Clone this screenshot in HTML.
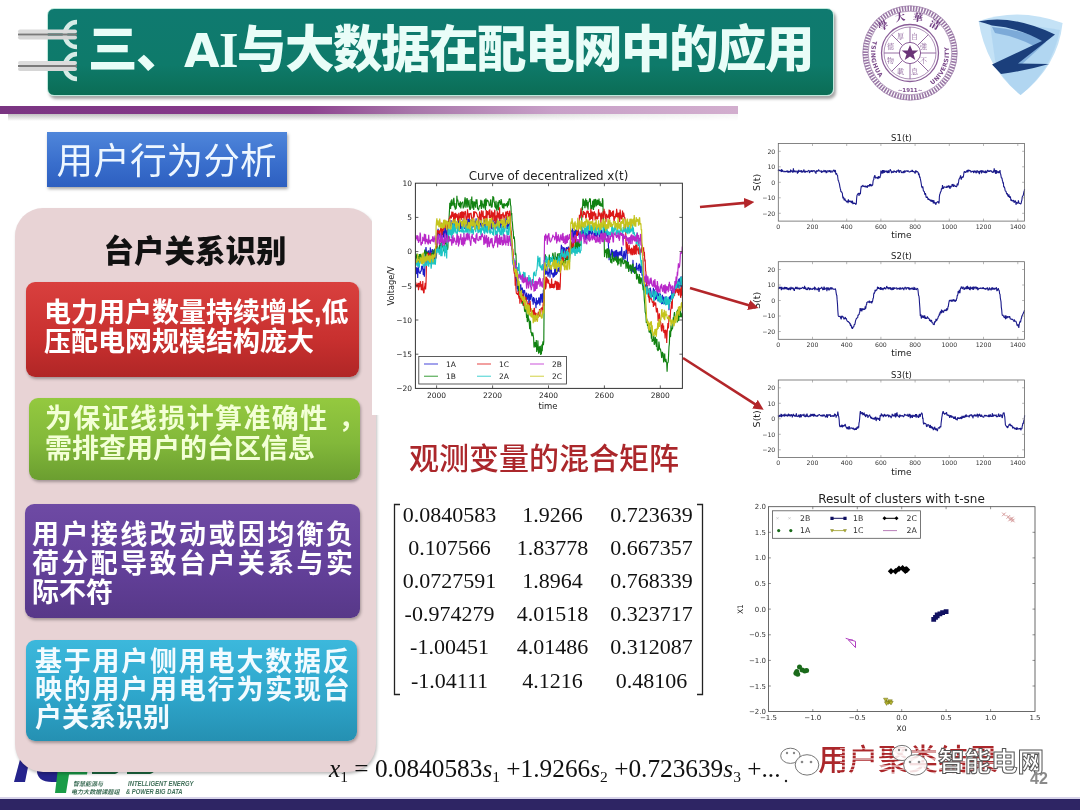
<!DOCTYPE html>
<html><head><meta charset="utf-8">
<style>
*{margin:0;padding:0;box-sizing:border-box}
html,body{width:1080px;height:810px;overflow:hidden;background:#fff}
body{position:relative;font-family:"Liberation Sans","Noto Sans CJK SC",sans-serif}
.abs{position:absolute}
#banner{left:47px;top:8px;width:787px;height:88px;border-radius:7px;background:linear-gradient(180deg,#0f7a70 0%,#0e7a6a 65%,#0b6d55 100%);
 border:1.5px solid #bfe9dc;box-shadow:2px 3px 3px rgba(0,0,0,.35)}
#title{left:88px;top:15px;font:900 49.5px/70px "Liberation Sans","Noto Sans CJK SC",sans-serif;color:#e9fdf8;white-space:nowrap;letter-spacing:-1.5px}
#pline{left:0;top:106px;width:738px;height:8px;background:linear-gradient(90deg,#7a3582 0%,#86398a 30%,#8e4490 42%,#a877aa 56%,#c8a0c8 75%,#d2aece 100%)}
#pshadow{left:8px;top:114px;width:730px;height:7px;background:linear-gradient(180deg,rgba(140,140,140,.55),rgba(200,200,200,0));-webkit-mask-image:linear-gradient(90deg,#000 0%,#000 50%,rgba(0,0,0,.3) 85%,rgba(0,0,0,.15) 100%);mask-image:linear-gradient(90deg,#000 0%,#000 50%,rgba(0,0,0,.3) 85%,rgba(0,0,0,.15) 100%)}
#bluebox{left:47px;top:132px;width:240px;height:55px;background:linear-gradient(180deg,#4f86da 0%,#3a6fcd 55%,#2d5fc0 100%);
 box-shadow:1px 2px 3px rgba(0,0,0,.35)}
#bluetext{left:56.5px;top:133.5px;font:400 36.7px/55px "Liberation Sans","Noto Sans CJK SC",sans-serif;color:#eef7ff;white-space:nowrap}
#pink{left:15px;top:208px;width:361px;height:564px;border-radius:28px;background:#e8d3d5;box-shadow:1px 2px 3px rgba(0,0,0,.25)}
#pinkhead{left:103.5px;top:228.5px;font:900 30.5px/44px "Liberation Sans","Noto Sans CJK SC",sans-serif;color:#111;white-space:nowrap}
.card{position:absolute;border-radius:9px;box-shadow:1px 2px 3px rgba(0,0,0,.3)}
.ct{position:absolute;font:700 27px/30.5px "Liberation Sans","Noto Sans CJK SC",sans-serif;white-space:nowrap}
#c1{left:26px;top:282px;width:333px;height:95px;background:linear-gradient(180deg,#d9403e 0%,#c8302f 60%,#b02626 100%)}
#c2{left:29px;top:398px;width:331px;height:82px;background:linear-gradient(180deg,#94c93f 0%,#82b83a 55%,#6b9e30 100%)}
#c3{left:25px;top:504px;width:335px;height:114px;background:linear-gradient(180deg,#6e4aa4 0%,#63409a 55%,#573888 100%)}
#c4{left:26px;top:640px;width:331px;height:101px;background:linear-gradient(180deg,#3cb8dc 0%,#2ea6cb 55%,#2590b2 100%)}
#redhead{left:409px;top:440.5px;font:500 30px/36px "Liberation Sans","Noto Sans CJK SC",sans-serif;color:#ab272b;white-space:nowrap}
.num{position:absolute;font:400 22px/26px "Liberation Serif","DejaVu Serif",serif;color:#111;white-space:nowrap}
#eq{left:329px;top:754px;font:400 25.3px/28px "Liberation Serif",serif;color:#111;white-space:nowrap}
#eq i{font-style:italic}
#eq sub{font-size:15.5px;vertical-align:-5px;line-height:0}
#redfoot{left:818px;top:742px;font:500 30px/36px "Liberation Sans","Noto Sans CJK SC",sans-serif;color:#ab272b;white-space:nowrap}
#wm{left:938px;top:744px;font:700 26.5px/36px "Liberation Sans","Noto Sans CJK SC",sans-serif;color:#fff;-webkit-text-stroke:1px #555;white-space:nowrap}
#pgnum{left:1030px;top:770px;font:700 16px/18px "Liberation Sans",sans-serif;color:#8a8a8a}
#bottombar{left:0;top:799px;width:1080px;height:11px;background:#2e2564}
#bottomline{left:0;top:797px;width:1080px;height:2px;background:#d8d4ea}
svg{font-family:"DejaVu Sans","Liberation Sans",sans-serif}
</style></head>
<body>
<!-- bottom-left logo (behind pink panel) -->
<svg class="abs" style="left:0;top:740px" width="220" height="60" viewBox="0 740 220 60">
 <path d="M22 752 L31 752 L25 782 L14 782 Z" fill="#25238c"/>
 <path d="M40 756 Q30 782 52 782 L62 782 L64 770 L52 770 Z" fill="#25238c"/>
 <path d="M58 768 L88 768 L87 774.5 L69 774.5 L66 793 L55 793 Z" fill="#1a9c48"/>
 <path d="M92 768 L121 768 Q119 773 115 774 L92 774 Z" fill="#1d6b42"/>
 <path d="M127 768 L157 768 Q154 773 150 774 L127 774 Z" fill="#1d6b42"/>
 <g fill="#3f6f58" font-style="italic" style="font-family:'Noto Sans CJK SC',sans-serif" font-weight="700">
  <text x="73" y="786" font-size="6" textLength="30" lengthAdjust="spacingAndGlyphs">智慧能源与</text>
  <text x="71" y="793.5" font-size="6" textLength="48.5" lengthAdjust="spacingAndGlyphs">电力大数据课题组</text>
 </g>
 <g fill="#3f6f58" font-style="italic" font-weight="700" style="font-family:'Liberation Sans',sans-serif">
  <text x="128" y="786" font-size="6.6" textLength="65.5" lengthAdjust="spacingAndGlyphs">INTELLIGENT ENERGY</text>
  <text x="126" y="793.5" font-size="6.6" textLength="56.5" lengthAdjust="spacingAndGlyphs">&amp; POWER BIG DATA</text>
 </g>
</svg>

<div class="abs" id="banner"></div>
<!-- clips -->
<svg class="abs" style="left:0;top:0" width="90" height="90" viewBox="0 0 90 90">
 <g>
  <path d="M77 22 A12 12 0 0 0 65 34 L65 36 A12 12 0 0 0 77 47" fill="none" stroke="#d6ebe6" stroke-width="4.6"/>
  <rect x="18" y="29.5" width="59" height="4" rx="2" fill="#dcdcdc"/>
  <rect x="18" y="35.5" width="59" height="4" rx="2" fill="#d6d6d6"/>
  <rect x="18" y="33.5" width="59" height="2" fill="#7a7a7a"/>
  <path d="M77 54 A12 12 0 0 0 65 66 L65 67 A12 12 0 0 0 77 79" fill="none" stroke="#d6ebe6" stroke-width="4.6"/>
  <rect x="18" y="61" width="59" height="4" rx="2" fill="#dcdcdc"/>
  <rect x="18" y="67" width="59" height="4" rx="2" fill="#d6d6d6"/>
  <rect x="18" y="65" width="59" height="2" fill="#7a7a7a"/>
 </g>
</svg>
<div class="abs" id="title">三、<span style="font-family:'DejaVu Sans';font-weight:700;font-size:46px">A</span><span style="font-family:'Liberation Serif';font-weight:700;font-size:50px;margin-left:1px">I</span>与大数据在配电网中的应用</div>
<div class="abs" id="pshadow"></div>
<div class="abs" id="pline"></div>

<!-- logos -->
<svg class="abs" style="left:859.6px;top:3.2px" width="100" height="100" viewBox="0 0 100 100">
 <defs>
  <path id="arcL" d="M13.35 36.66 A39 39 0 0 0 27.6 81.9"/>
  <path id="arcR" d="M72.37 81.95 A39 39 0 0 0 86.65 36.66"/>
 </defs>
 <circle cx="50" cy="50" r="44.6" fill="none" stroke="#9a78a6" stroke-width="5.2" stroke-dasharray="1.6 1.2"/>
 <circle cx="50" cy="50" r="47.2" fill="none" stroke="#9a78a6" stroke-width="0.7"/>
 <circle cx="50" cy="50" r="41.8" fill="none" stroke="#9a78a6" stroke-width="0.7"/>
 <circle cx="50" cy="50" r="28.5" fill="none" stroke="#8a5e98" stroke-width="1.3"/>
 <circle cx="50" cy="50" r="26" fill="none" stroke="#8a5e98" stroke-width="0.7"/>
 <circle cx="50" cy="50" r="10.6" fill="none" stroke="#8a5e98" stroke-width="1"/>
 <polygon points="50,42 52.3,47.6 58.3,47.6 53.5,51.2 55.3,57 50,53.5 44.7,57 46.5,51.2 41.7,47.6 47.7,47.6" fill="#6a3478"/>
 <g stroke="#8a5e98" stroke-width="0.9">
  <line x1="50" y1="24" x2="50" y2="39.4"/><line x1="50" y1="60.6" x2="50" y2="76"/>
  <line x1="24" y1="50" x2="39.4" y2="50"/><line x1="60.6" y1="50" x2="76" y2="50"/>
  <line x1="31.6" y1="31.6" x2="42.5" y2="42.5"/><line x1="57.5" y1="57.5" x2="68.4" y2="68.4"/>
  <line x1="68.4" y1="31.6" x2="57.5" y2="42.5"/><line x1="42.5" y1="57.5" x2="31.6" y2="68.4"/>
 </g>
 <g fill="#6e3a80" font-size="10" font-weight="900" style="font-family:'Noto Serif CJK SC',serif">
  <text x="18" y="26" transform="rotate(-28 23 22)">學</text>
  <text x="35" y="18" transform="rotate(-9 39 14)">大</text>
  <text x="53" y="18" transform="rotate(9 57 14)">華</text>
  <text x="70" y="25" transform="rotate(28 75 21)">清</text>
 </g>
 <g fill="#8a5e98" font-size="7" style="font-family:'Noto Serif CJK SC',serif">
  <text x="37" y="36">厚</text><text x="51" y="36">自</text>
  <text x="60" y="46">強</text><text x="60" y="60">不</text>
  <text x="51" y="71">息</text><text x="37" y="71">載</text>
  <text x="27" y="60">物</text><text x="27" y="46">德</text>
 </g>
 <g fill="#7a4a8a" font-size="6" font-weight="700" style="font-family:'DejaVu Sans',sans-serif">
  <text letter-spacing="0.6"><textPath href="#arcL" startOffset="1">TSINGHUA</textPath></text>
  <text letter-spacing="0.3"><textPath href="#arcR" startOffset="0">UNIVERSITY</textPath></text>
  <text x="50" y="88.5" text-anchor="middle" font-size="5.5">~1911~</text>
 </g>
</svg>
<svg class="abs" style="left:970px;top:5px" width="100" height="100" viewBox="970 5 100 100">
 <path d="M978.6 21 Q1019 7 1062.6 23 Q1058 66 1020.6 95 Q986 68 978.6 21 Z" fill="#c4e2f6"/>
 <path d="M990 24 Q1030 24 1060 30 Q1052 70 1020.6 95 Q1000 78 995 60 Z" fill="#a9d2f0" opacity=".7"/>
 <path d="M992 27 Q1025 30 1046 42 L1036 47 Q1018 37 995 33 Z" fill="#6f9fd2" opacity=".8"/>
 <path d="M1046 42 L1036 47 L1012 66 L1020 66 Z" fill="#6f9fd2" opacity=".7"/>
 <path d="M978.5 21.5 Q1012 14 1055 34.5 L1018 63.5 L1049 64 Q1025 71 1001 74 L992 64.5 L1042 41 Q1020 28 992 25.5 Q985 23 978.5 21.5 Z" fill="#1b3f7c"/>
</svg>

<div class="abs" id="bluebox"></div>
<div class="abs" id="bluetext">用户行为分析</div>

<div class="abs" id="pink"></div>
<div class="abs" id="pinkhead">台户关系识别</div>
<div class="card" id="c1"></div>
<div class="ct" style="left:44px;top:298.5px;line-height:29px;color:#fff">电力用户数量持续增长,低<br>压配电网规模结构庞大</div>
<div class="card" id="c2"></div>
<div class="ct" style="left:45px;top:405.3px;line-height:29.5px;color:#f3ffd6"><span style="letter-spacing:1.35px">为保证线损计算准确性<span style="position:relative;left:10px">，</span></span><br>需排查用户的台区信息</div>
<div class="card" id="c3"></div>
<div class="ct" style="left:32px;top:520.6px;line-height:29px;color:#fff"><span style="letter-spacing:2.4px">用户接线改动或因均衡负<br>荷分配导致台户关系与实</span><br>际不符</div>
<div class="card" id="c4"></div>
<div class="ct" style="left:35px;top:647.7px;line-height:28.3px;color:#f2fbff"><span style="letter-spacing:1.77px">基于用户侧用电大数据反<br>映的用户用电行为实现台</span><br>户关系识别</div>

<!-- plots overlay -->
<svg class="abs" style="left:0;top:0" width="1080" height="810" viewBox="0 0 1080 810">
<defs>
 <clipPath id="clipmain"><rect x="415.4" y="183.2" width="267" height="205.2"/></clipPath>
 <marker id="ah" markerWidth="4" markerHeight="4" refX="2.5" refY="2" orient="auto" markerUnits="strokeWidth"><path d="M0 0 L4 2 L0 4 Z" fill="#b3262a"/></marker>
</defs>
<rect x="372" y="160" width="330" height="255" fill="#fff"/>
<g clip-path="url(#clipmain)">
<path d="M415.4 269.4 L415.8 267.1 416.2 267.4 416.6 273.5 417.0 273.9 417.4 268.1 417.7 278.0 418.1 266.3 418.5 268.1 418.9 271.3 419.3 272.8 419.7 272.7 420.1 273.9 420.5 270.9 420.9 271.6 421.3 270.5 421.7 266.0 422.1 266.2 422.4 269.4 422.8 265.8 423.2 274.4 423.6 274.9 424.0 268.7 424.4 276.8 424.8 270.1 425.2 257.6 425.6 250.8 426.0 247.1 426.4 251.6 426.8 252.1 427.1 250.9 427.5 256.1 427.9 259.0 428.3 255.3 428.7 250.2 429.1 255.8 429.5 255.0 429.9 256.8 430.3 247.4 430.7 256.4 431.1 255.0 431.4 250.6 431.8 252.2 432.2 249.1 432.6 250.9 433.0 249.5 433.4 258.1 433.8 254.2 434.2 252.5 434.6 249.4 435.0 254.9 435.4 252.4 435.8 258.4 436.1 256.6 436.5 251.0 436.9 247.5 437.3 232.5 437.7 233.9 438.1 228.9 438.5 235.3 438.9 234.2 439.3 234.1 439.7 233.0 440.1 238.5 440.5 237.2 440.8 237.2 441.2 237.2 441.6 238.9 442.0 229.2 442.4 238.1 442.8 232.6 443.2 237.4 443.6 230.8 444.0 234.3 444.4 238.8 444.8 228.6 445.1 227.3 445.5 228.4 445.9 233.0 446.3 239.3 446.7 236.6 447.1 229.6 447.5 234.0 447.9 238.2 448.3 227.2 448.7 228.2 449.1 226.3 449.5 227.1 449.8 225.7 450.2 224.9 450.6 229.7 451.0 220.1 451.4 224.1 451.8 223.0 452.2 227.5 452.6 221.5 453.0 228.8 453.4 225.4 453.8 229.6 454.1 227.0 454.5 219.5 454.9 222.3 455.3 225.6 455.7 222.4 456.1 221.9 456.5 226.7 456.9 223.7 457.3 221.4 457.7 225.3 458.1 222.6 458.5 222.8 458.8 218.7 459.2 228.6 459.6 219.9 460.0 229.4 460.4 222.2 460.8 222.8 461.2 228.8 461.6 226.7 462.0 221.2 462.4 229.5 462.8 222.4 463.2 219.2 463.5 224.3 463.9 223.2 464.3 228.2 464.7 228.7 465.1 227.1 465.5 227.5 465.9 226.7 466.3 221.1 466.7 222.7 467.1 226.2 467.5 226.5 467.8 218.9 468.2 224.2 468.6 218.6 469.0 222.8 469.4 223.6 469.8 219.2 470.2 221.0 470.6 224.8 471.0 225.3 471.4 220.1 471.8 225.1 472.2 220.7 472.5 227.6 472.9 224.9 473.3 225.3 473.7 220.7 474.1 227.4 474.5 220.8 474.9 222.9 475.3 221.6 475.7 223.4 476.1 218.2 476.5 226.9 476.9 225.5 477.2 226.7 477.6 226.8 478.0 228.6 478.4 219.9 478.8 221.1 479.2 227.9 479.6 224.2 480.0 225.0 480.4 223.2 480.8 223.4 481.2 227.5 481.5 219.4 481.9 226.8 482.3 224.2 482.7 223.1 483.1 227.8 483.5 229.5 483.9 227.1 484.3 221.6 484.7 219.8 485.1 221.0 485.5 228.8 485.9 220.3 486.2 220.1 486.6 220.4 487.0 225.2 487.4 220.2 487.8 228.0 488.2 229.5 488.6 228.6 489.0 227.6 489.4 226.2 489.8 228.5 490.2 223.6 490.6 227.0 490.9 222.4 491.3 228.6 491.7 222.3 492.1 229.5 492.5 225.2 492.9 219.6 493.3 225.6 493.7 220.9 494.1 222.4 494.5 222.8 494.9 226.5 495.2 223.1 495.6 228.8 496.0 221.9 496.4 218.0 496.8 218.0 497.2 228.7 497.6 225.9 498.0 226.2 498.4 226.9 498.8 223.7 499.2 220.9 499.6 225.9 499.9 219.3 500.3 221.2 500.7 228.2 501.1 221.4 501.5 219.7 501.9 227.9 502.3 224.6 502.7 222.6 503.1 222.1 503.5 229.9 503.9 222.6 504.3 222.0 504.6 221.6 505.0 220.5 505.4 227.3 505.8 220.5 506.2 217.6 506.6 217.6 507.0 228.4 507.4 229.0 507.8 222.4 508.2 227.5 508.6 221.9 508.9 220.4 509.3 224.6 509.7 227.2 510.1 223.3 510.5 226.8 510.9 239.4 511.3 240.5 511.7 248.3 512.1 248.2 512.5 251.1 512.9 261.3 513.3 265.2 513.6 262.2 514.0 268.3 514.4 270.6 514.8 271.9 515.2 271.6 515.6 279.6 516.0 274.2 516.4 277.8 516.8 281.7 517.2 289.1 517.6 280.6 518.0 291.0 518.3 291.9 518.7 290.0 519.1 292.5 519.5 284.6 519.9 291.5 520.3 290.2 520.7 284.3 521.1 288.9 521.5 293.6 521.9 290.9 522.3 287.5 522.6 292.9 523.0 289.9 523.4 298.0 523.8 291.1 524.2 290.5 524.6 290.4 525.0 293.2 525.4 297.1 525.8 299.6 526.2 295.7 526.6 292.7 527.0 299.4 527.3 299.7 527.7 295.3 528.1 296.5 528.5 293.6 528.9 304.2 529.3 301.4 529.7 294.5 530.1 300.2 530.5 298.5 530.9 293.7 531.3 294.4 531.6 295.7 532.0 297.4 532.4 301.5 532.8 298.5 533.2 304.7 533.6 297.1 534.0 300.6 534.4 298.2 534.8 303.2 535.2 302.1 535.6 303.0 536.0 308.3 536.3 297.7 536.7 302.7 537.1 304.6 537.5 303.5 537.9 300.1 538.3 303.6 538.7 298.0 539.1 297.6 539.5 302.1 539.9 305.5 540.3 297.8 540.7 293.9 541.0 302.7 541.4 297.1 541.8 295.1 542.2 293.4 542.6 301.9 543.0 302.7 543.4 289.8 543.8 299.2 544.2 285.8 544.6 270.7 545.0 271.0 545.3 267.4 545.7 274.8 546.1 263.9 546.5 273.7 546.9 265.8 547.3 274.8 547.7 271.7 548.1 276.6 548.5 272.5 548.9 272.9 549.3 268.1 549.7 271.6 550.0 277.8 550.4 265.2 550.8 268.5 551.2 265.5 551.6 274.4 552.0 272.7 552.4 274.1 552.8 274.8 553.2 277.7 553.6 272.5 554.0 276.2 554.4 276.6 554.7 267.6 555.1 269.3 555.5 275.5 555.9 268.1 556.3 274.9 556.7 270.1 557.1 273.6 557.5 270.6 557.9 268.7 558.3 268.5 558.7 271.8 559.0 267.2 559.4 267.4 559.8 272.0 560.2 268.8 560.6 263.5 561.0 249.9 561.4 244.7 561.8 256.8 562.2 246.4 562.6 254.1 563.0 251.9 563.4 252.4 563.7 247.0 564.1 258.4 564.5 253.6 564.9 247.9 565.3 255.5 565.7 255.8 566.1 252.9 566.5 247.6 566.9 247.5 567.3 248.6 567.7 249.3 568.1 248.3 568.4 246.6 568.8 249.9 569.2 250.0 569.6 255.5 570.0 251.9 570.4 240.6 570.8 238.5 571.2 230.3 571.6 232.9 572.0 234.6 572.4 228.2 572.7 239.7 573.1 233.4 573.5 238.1 573.9 229.9 574.3 234.6 574.7 231.1 575.1 238.7 575.5 229.5 575.9 234.6 576.3 234.0 576.7 229.5 577.1 235.5 577.4 235.3 577.8 232.0 578.2 230.8 578.6 235.3 579.0 234.7 579.4 237.9 579.8 234.6 580.2 231.2 580.6 239.3 581.0 232.8 581.4 240.8 581.8 228.4 582.1 234.5 582.5 236.3 582.9 229.8 583.3 231.9 583.7 233.3 584.1 239.0 584.5 231.2 584.9 233.0 585.3 229.2 585.7 240.1 586.1 235.6 586.4 233.2 586.8 234.5 587.2 238.7 587.6 233.8 588.0 238.2 588.4 239.3 588.8 230.1 589.2 238.9 589.6 235.2 590.0 230.5 590.4 231.7 590.8 233.4 591.1 230.6 591.5 234.8 591.9 233.2 592.3 231.1 592.7 231.7 593.1 234.0 593.5 234.2 593.9 233.8 594.3 236.5 594.7 232.2 595.1 236.6 595.5 234.7 595.8 232.3 596.2 233.3 596.6 237.2 597.0 233.0 597.4 236.6 597.8 232.6 598.2 231.2 598.6 234.0 599.0 231.4 599.4 241.3 599.8 236.6 600.1 228.5 600.5 233.2 600.9 233.8 601.3 231.5 601.7 229.9 602.1 232.2 602.5 235.3 602.9 237.8 603.3 236.3 603.7 237.5 604.1 236.4 604.5 228.6 604.8 237.2 605.2 235.2 605.6 235.9 606.0 231.2 606.4 230.2 606.8 230.1 607.2 236.1 607.6 236.8 608.0 232.8 608.4 245.6 608.8 250.4 609.1 260.3 609.5 250.3 609.9 255.3 610.3 253.7 610.7 258.2 611.1 255.0 611.5 249.8 611.9 249.3 612.3 254.6 612.7 250.8 613.1 256.0 613.5 256.3 613.8 251.5 614.2 259.4 614.6 256.1 615.0 251.0 615.4 250.9 615.8 259.6 616.2 251.0 616.6 250.0 617.0 254.4 617.4 260.7 617.8 251.7 618.2 257.5 618.5 252.5 618.9 254.9 619.3 251.4 619.7 255.5 620.1 254.4 620.5 252.4 620.9 250.9 621.3 255.9 621.7 246.9 622.1 256.3 622.5 256.1 622.8 255.6 623.2 260.1 623.6 254.3 624.0 251.0 624.4 251.6 624.8 259.0 625.2 258.8 625.6 255.7 626.0 249.6 626.4 252.8 626.8 248.8 627.2 256.1 627.5 261.2 627.9 261.8 628.3 262.7 628.7 266.7 629.1 266.6 629.5 266.5 629.9 267.5 630.3 270.9 630.7 268.2 631.1 265.7 631.5 269.1 631.9 270.3 632.2 271.7 632.6 268.3 633.0 259.9 633.4 272.6 633.8 271.2 634.2 271.1 634.6 267.0 635.0 272.1 635.4 266.5 635.8 270.0 636.2 268.9 636.5 262.7 636.9 270.6 637.3 267.9 637.7 269.0 638.1 268.5 638.5 264.7 638.9 271.1 639.3 263.6 639.7 264.7 640.1 264.9 640.5 273.0 640.9 266.5 641.2 266.6 641.6 266.3 642.0 275.8 642.4 272.3 642.8 273.4 643.2 284.4 643.6 284.8 644.0 289.1 644.4 281.0 644.8 283.9 645.2 284.8 645.6 286.2 645.9 288.3 646.3 289.2 646.7 289.1 647.1 284.7 647.5 290.1 647.9 291.9 648.3 291.4 648.7 297.8 649.1 288.7 649.5 288.6 649.9 293.5 650.2 287.7 650.6 289.4 651.0 291.5 651.4 298.4 651.8 295.8 652.2 296.9 652.6 295.8 653.0 293.5 653.4 287.9 653.8 295.3 654.2 289.3 654.6 293.0 654.9 291.1 655.3 295.5 655.7 300.3 656.1 290.5 656.5 298.0 656.9 298.8 657.3 290.9 657.7 293.8 658.1 301.3 658.5 300.6 658.9 293.2 659.3 298.2 659.6 295.9 660.0 300.6 660.4 293.6 660.8 300.8 661.2 297.1 661.6 304.1 662.0 298.4 662.4 294.9 662.8 303.9 663.2 302.7 663.6 296.7 663.9 297.1 664.3 304.2 664.7 298.7 665.1 302.2 665.5 296.5 665.9 302.7 666.3 298.5 666.7 299.3 667.1 300.7 667.5 302.4 667.9 300.4 668.3 299.7 668.6 304.0 669.0 310.2 669.4 296.5 669.8 297.5 670.2 301.0 670.6 295.3 671.0 299.6 671.4 298.1 671.8 289.7 672.2 293.2 672.6 295.9 673.0 295.0 673.3 298.1 673.7 292.9 674.1 289.5 674.5 291.7 674.9 291.5 675.3 286.6 675.7 290.1 676.1 281.3 676.5 281.4 676.9 287.5 677.3 283.1 677.6 282.8 678.0 287.9 678.4 287.0 678.8 278.9 679.2 283.8 679.6 278.2 680.0 287.2 680.4 281.3 680.8 277.7 681.2 276.4 681.6 287.5 682.0 280.5 682.3 282.2" fill="none" stroke="#1c1cc8" stroke-width="1.15" stroke-linejoin="bevel"/>
<path d="M415.4 256.0 L415.8 260.5 416.2 258.5 416.6 255.1 417.0 253.6 417.4 258.3 417.7 256.8 418.1 263.6 418.5 256.0 418.9 257.1 419.3 254.0 419.7 262.3 420.1 254.1 420.5 254.5 420.9 257.6 421.3 258.1 421.7 257.6 422.1 254.5 422.4 260.1 422.8 262.4 423.2 257.7 423.6 259.2 424.0 253.6 424.4 253.2 424.8 249.5 425.2 251.6 425.6 253.8 426.0 259.4 426.4 252.1 426.8 252.1 427.1 253.4 427.5 252.0 427.9 253.3 428.3 258.8 428.7 255.6 429.1 256.3 429.5 257.5 429.9 256.6 430.3 260.7 430.7 256.1 431.1 257.9 431.4 257.6 431.8 253.1 432.2 253.7 432.6 255.6 433.0 250.1 433.4 259.1 433.8 256.4 434.2 261.6 434.6 258.4 435.0 248.6 435.4 261.3 435.8 248.4 436.1 246.0 436.5 249.1 436.9 245.8 437.3 247.6 437.7 247.8 438.1 248.6 438.5 251.5 438.9 248.7 439.3 249.3 439.7 239.5 440.1 249.6 440.5 249.6 440.8 243.1 441.2 248.8 441.6 242.0 442.0 244.7 442.4 244.8 442.8 247.3 443.2 247.7 443.6 251.0 444.0 250.6 444.4 247.0 444.8 245.2 445.1 240.7 445.5 244.0 445.9 239.1 446.3 243.0 446.7 249.1 447.1 244.3 447.5 249.8 447.9 247.5 448.3 230.1 448.7 224.9 449.1 217.3 449.5 209.8 449.8 202.7 450.2 204.4 450.6 208.9 451.0 200.5 451.4 206.3 451.8 199.4 452.2 204.4 452.6 203.1 453.0 205.8 453.4 200.9 453.8 197.9 454.1 200.7 454.5 207.5 454.9 203.1 455.3 209.7 455.7 208.3 456.1 208.8 456.5 205.6 456.9 195.8 457.3 201.4 457.7 199.5 458.1 201.7 458.5 205.5 458.8 204.3 459.2 203.1 459.6 207.1 460.0 203.0 460.4 201.5 460.8 208.4 461.2 205.1 461.6 203.2 462.0 202.6 462.4 202.7 462.8 201.6 463.2 208.4 463.5 206.3 463.9 207.3 464.3 205.8 464.7 200.1 465.1 197.4 465.5 201.1 465.9 207.6 466.3 205.6 466.7 199.3 467.1 198.2 467.5 200.8 467.8 207.4 468.2 204.1 468.6 202.4 469.0 199.8 469.4 206.6 469.8 209.2 470.2 209.9 470.6 208.6 471.0 199.1 471.4 203.8 471.8 196.5 472.2 208.4 472.5 205.5 472.9 201.0 473.3 202.7 473.7 209.9 474.1 205.4 474.5 202.1 474.9 201.7 475.3 205.7 475.7 207.6 476.1 199.2 476.5 203.9 476.9 199.3 477.2 202.7 477.6 208.9 478.0 208.4 478.4 210.3 478.8 209.0 479.2 206.5 479.6 205.5 480.0 205.7 480.4 206.0 480.8 199.9 481.2 207.8 481.5 209.0 481.9 200.5 482.3 204.2 482.7 203.5 483.1 207.5 483.5 204.4 483.9 208.4 484.3 201.0 484.7 199.5 485.1 203.2 485.5 210.3 485.9 198.2 486.2 205.8 486.6 203.0 487.0 199.8 487.4 200.5 487.8 200.2 488.2 201.9 488.6 201.7 489.0 203.8 489.4 206.1 489.8 204.5 490.2 205.5 490.6 199.7 490.9 199.7 491.3 207.5 491.7 206.9 492.1 207.2 492.5 202.6 492.9 196.1 493.3 197.6 493.7 197.2 494.1 202.5 494.5 201.8 494.9 207.2 495.2 205.8 495.6 208.5 496.0 200.7 496.4 206.5 496.8 210.6 497.2 206.0 497.6 205.7 498.0 201.8 498.4 210.2 498.8 204.9 499.2 200.4 499.6 200.7 499.9 203.0 500.3 201.8 500.7 204.8 501.1 199.0 501.5 201.4 501.9 204.0 502.3 206.6 502.7 208.0 503.1 203.6 503.5 204.2 503.9 208.8 504.3 204.1 504.6 203.5 505.0 204.6 505.4 206.1 505.8 204.5 506.2 205.5 506.6 203.1 507.0 203.6 507.4 207.5 507.8 201.3 508.2 205.2 508.6 205.2 508.9 199.7 509.3 198.8 509.7 199.0 510.1 198.9 510.5 204.6 510.9 206.3 511.3 215.2 511.7 213.1 512.1 220.9 512.5 223.7 512.9 230.0 513.3 231.7 513.6 238.8 514.0 236.3 514.4 238.1 514.8 243.1 515.2 255.1 515.6 252.9 516.0 255.2 516.4 269.2 516.8 271.3 517.2 273.5 517.6 275.6 518.0 282.5 518.3 285.5 518.7 290.6 519.1 291.3 519.5 293.1 519.9 293.0 520.3 299.3 520.7 293.6 521.1 295.0 521.5 297.5 521.9 303.6 522.3 294.8 522.6 301.8 523.0 304.9 523.4 305.7 523.8 303.8 524.2 306.3 524.6 311.1 525.0 311.5 525.4 311.8 525.8 307.0 526.2 312.0 526.6 317.9 527.0 314.7 527.3 321.9 527.7 321.3 528.1 313.2 528.5 320.6 528.9 318.6 529.3 323.2 529.7 329.1 530.1 320.7 530.5 321.9 530.9 332.7 531.3 331.7 531.6 334.2 532.0 336.1 532.4 333.3 532.8 332.5 533.2 335.7 533.6 338.0 534.0 347.6 534.4 346.1 534.8 343.2 535.2 342.0 535.6 347.0 536.0 346.8 536.3 340.1 536.7 352.0 537.1 349.5 537.5 347.8 537.9 340.4 538.3 350.3 538.7 353.7 539.1 347.0 539.5 346.7 539.9 352.7 540.3 345.8 540.7 354.9 541.0 349.3 541.4 354.2 541.8 344.4 542.2 351.2 542.6 344.2 543.0 341.4 543.4 345.2 543.8 341.3 544.2 294.8 544.6 257.3 545.0 255.8 545.3 254.3 545.7 259.5 546.1 259.4 546.5 262.1 546.9 259.6 547.3 259.7 547.7 261.4 548.1 260.2 548.5 260.6 548.9 261.1 549.3 254.5 549.7 261.4 550.0 263.0 550.4 258.6 550.8 262.0 551.2 259.8 551.6 258.6 552.0 257.6 552.4 257.6 552.8 252.8 553.2 254.6 553.6 259.2 554.0 259.2 554.4 258.9 554.7 261.9 555.1 252.3 555.5 263.2 555.9 262.2 556.3 256.7 556.7 257.9 557.1 260.2 557.5 253.6 557.9 259.2 558.3 257.7 558.7 264.7 559.0 253.0 559.4 264.1 559.8 259.0 560.2 253.5 560.6 255.0 561.0 254.7 561.4 255.2 561.8 262.4 562.2 265.1 562.6 258.2 563.0 263.8 563.4 252.7 563.7 264.6 564.1 260.2 564.5 262.7 564.9 264.1 565.3 257.9 565.7 263.3 566.1 254.3 566.5 257.4 566.9 259.8 567.3 254.1 567.7 255.3 568.1 261.2 568.4 253.8 568.8 250.9 569.2 257.4 569.6 258.6 570.0 249.3 570.4 248.9 570.8 250.2 571.2 253.6 571.6 242.2 572.0 246.1 572.4 251.6 572.7 247.0 573.1 249.5 573.5 243.0 573.9 249.0 574.3 251.9 574.7 252.4 575.1 247.8 575.5 238.9 575.9 249.0 576.3 246.5 576.7 239.5 577.1 250.8 577.4 246.6 577.8 241.0 578.2 250.5 578.6 240.3 579.0 241.3 579.4 249.1 579.8 243.9 580.2 245.2 580.6 244.8 581.0 245.7 581.4 232.0 581.8 217.4 582.1 206.8 582.5 209.9 582.9 199.0 583.3 199.0 583.7 205.9 584.1 200.4 584.5 202.6 584.9 208.2 585.3 205.1 585.7 198.5 586.1 205.8 586.4 202.5 586.8 200.0 587.2 207.4 587.6 201.7 588.0 209.7 588.4 201.8 588.8 202.3 589.2 201.6 589.6 198.3 590.0 202.0 590.4 198.5 590.8 208.9 591.1 205.0 591.5 208.3 591.9 209.2 592.3 205.7 592.7 200.9 593.1 201.2 593.5 210.0 593.9 199.2 594.3 206.6 594.7 207.3 595.1 199.4 595.5 199.3 595.8 201.5 596.2 206.3 596.6 204.3 597.0 199.5 597.4 205.1 597.8 200.5 598.2 200.2 598.6 204.6 599.0 198.5 599.4 205.8 599.8 203.6 600.1 201.4 600.5 206.3 600.9 205.2 601.3 203.4 601.7 204.9 602.1 206.8 602.5 198.2 602.9 200.6 603.3 218.7 603.7 222.3 604.1 237.9 604.5 257.1 604.8 250.5 605.2 252.9 605.6 250.4 606.0 249.4 606.4 254.8 606.8 258.2 607.2 248.2 607.6 253.6 608.0 248.3 608.4 257.8 608.8 249.1 609.1 250.3 609.5 257.3 609.9 255.6 610.3 257.3 610.7 262.6 611.1 258.9 611.5 259.3 611.9 263.5 612.3 252.2 612.7 258.9 613.1 257.8 613.5 260.4 613.8 261.8 614.2 257.3 614.6 260.0 615.0 258.8 615.4 260.5 615.8 258.1 616.2 256.0 616.6 262.5 617.0 259.7 617.4 259.7 617.8 265.5 618.2 256.8 618.5 260.3 618.9 264.1 619.3 258.7 619.7 259.7 620.1 260.6 620.5 258.4 620.9 266.7 621.3 262.6 621.7 261.0 622.1 257.4 622.5 261.1 622.8 263.1 623.2 264.0 623.6 263.5 624.0 264.0 624.4 259.7 624.8 261.7 625.2 262.6 625.6 260.4 626.0 268.8 626.4 260.9 626.8 266.4 627.2 261.4 627.5 268.6 627.9 266.3 628.3 261.9 628.7 271.9 629.1 266.9 629.5 267.1 629.9 264.5 630.3 268.9 630.7 264.5 631.1 271.3 631.5 273.6 631.9 266.8 632.2 266.0 632.6 263.9 633.0 264.3 633.4 271.4 633.8 268.0 634.2 268.8 634.6 274.0 635.0 269.7 635.4 267.4 635.8 273.5 636.2 270.7 636.5 278.7 636.9 279.4 637.3 273.7 637.7 278.3 638.1 276.4 638.5 279.2 638.9 283.5 639.3 274.1 639.7 278.3 640.1 284.0 640.5 283.0 640.9 277.3 641.2 278.5 641.6 278.7 642.0 283.2 642.4 284.7 642.8 285.9 643.2 290.2 643.6 285.6 644.0 293.8 644.4 300.6 644.8 304.4 645.2 312.3 645.6 313.1 645.9 315.0 646.3 322.9 646.7 318.7 647.1 321.0 647.5 325.9 647.9 322.4 648.3 328.8 648.7 326.1 649.1 332.2 649.5 332.2 649.9 326.5 650.2 331.4 650.6 333.5 651.0 330.1 651.4 338.7 651.8 333.6 652.2 342.0 652.6 339.9 653.0 339.6 653.4 340.9 653.8 335.1 654.2 344.7 654.6 343.9 654.9 342.1 655.3 337.0 655.7 339.2 656.1 344.1 656.5 346.8 656.9 338.9 657.3 349.6 657.7 350.0 658.1 351.0 658.5 349.1 658.9 341.6 659.3 344.7 659.6 348.3 660.0 349.8 660.4 348.6 660.8 351.1 661.2 353.1 661.6 357.7 662.0 357.5 662.4 351.8 662.8 353.7 663.2 353.2 663.6 362.6 663.9 355.5 664.3 360.7 664.7 353.5 665.1 361.0 665.5 362.1 665.9 358.8 666.3 361.8 666.7 362.5 667.1 371.6 667.5 362.8 667.9 362.8 668.3 361.1 668.6 354.5 669.0 346.7 669.4 343.5 669.8 330.6 670.2 336.8 670.6 336.5 671.0 325.2 671.4 331.3 671.8 327.8 672.2 329.2 672.6 328.2 673.0 323.9 673.3 317.3 673.7 325.2 674.1 314.8 674.5 312.2 674.9 315.2 675.3 317.7 675.7 318.0 676.1 318.4 676.5 318.1 676.9 310.7 677.3 322.6 677.6 309.5 678.0 311.8 678.4 320.6 678.8 320.9 679.2 311.4 679.6 314.2 680.0 317.1 680.4 309.0 680.8 317.1 681.2 315.0 681.6 317.0 682.0 312.7 682.3 317.7" fill="none" stroke="#118211" stroke-width="1.15" stroke-linejoin="bevel"/>
<path d="M415.4 286.3 L415.8 282.4 416.2 285.9 416.6 285.1 417.0 287.3 417.4 283.8 417.7 286.4 418.1 282.7 418.5 290.2 418.9 287.5 419.3 283.1 419.7 287.1 420.1 282.7 420.5 281.2 420.9 285.5 421.3 290.2 421.7 285.6 422.1 284.2 422.4 290.5 422.8 281.0 423.2 288.7 423.6 292.7 424.0 293.2 424.4 288.0 424.8 286.5 425.2 282.7 425.6 289.5 426.0 283.8 426.4 267.5 426.8 261.1 427.1 259.3 427.5 253.6 427.9 253.8 428.3 252.8 428.7 255.3 429.1 263.5 429.5 260.2 429.9 256.6 430.3 252.5 430.7 263.4 431.1 258.4 431.4 257.5 431.8 259.9 432.2 261.3 432.6 260.4 433.0 261.0 433.4 260.1 433.8 259.2 434.2 257.6 434.6 254.1 435.0 256.8 435.4 252.6 435.8 258.6 436.1 251.0 436.5 255.5 436.9 243.8 437.3 230.4 437.7 230.6 438.1 231.9 438.5 231.5 438.9 233.7 439.3 230.4 439.7 234.0 440.1 233.5 440.5 229.1 440.8 225.0 441.2 222.6 441.6 231.1 442.0 236.0 442.4 230.3 442.8 228.3 443.2 231.1 443.6 227.4 444.0 226.6 444.4 228.3 444.8 227.5 445.1 228.2 445.5 226.8 445.9 223.9 446.3 222.8 446.7 223.4 447.1 224.2 447.5 232.7 447.9 227.0 448.3 224.0 448.7 227.1 449.1 218.5 449.5 220.7 449.8 217.7 450.2 216.0 450.6 218.5 451.0 214.8 451.4 218.5 451.8 211.6 452.2 216.5 452.6 216.2 453.0 211.9 453.4 216.2 453.8 222.5 454.1 218.3 454.5 213.3 454.9 218.0 455.3 219.6 455.7 212.9 456.1 216.0 456.5 217.6 456.9 214.2 457.3 214.6 457.7 221.3 458.1 220.1 458.5 218.5 458.8 212.8 459.2 220.1 459.6 217.1 460.0 218.0 460.4 212.7 460.8 212.4 461.2 220.1 461.6 211.5 462.0 212.4 462.4 218.3 462.8 211.5 463.2 217.8 463.5 211.9 463.9 220.6 464.3 214.9 464.7 213.5 465.1 211.1 465.5 211.8 465.9 217.1 466.3 220.7 466.7 216.6 467.1 219.0 467.5 209.3 467.8 212.6 468.2 217.2 468.6 217.3 469.0 213.2 469.4 219.3 469.8 213.2 470.2 213.7 470.6 214.1 471.0 212.8 471.4 216.1 471.8 219.6 472.2 217.5 472.5 220.6 472.9 219.7 473.3 217.1 473.7 211.2 474.1 217.5 474.5 214.2 474.9 211.4 475.3 212.5 475.7 212.3 476.1 212.2 476.5 213.7 476.9 213.7 477.2 215.1 477.6 217.0 478.0 216.9 478.4 218.3 478.8 221.3 479.2 216.7 479.6 211.5 480.0 214.5 480.4 220.3 480.8 213.9 481.2 220.9 481.5 210.2 481.9 213.8 482.3 215.1 482.7 217.1 483.1 210.8 483.5 221.1 483.9 220.9 484.3 216.1 484.7 218.3 485.1 216.3 485.5 216.0 485.9 221.9 486.2 210.1 486.6 212.1 487.0 219.8 487.4 211.1 487.8 215.1 488.2 213.5 488.6 214.0 489.0 210.2 489.4 218.3 489.8 209.2 490.2 214.9 490.6 218.1 490.9 216.8 491.3 217.1 491.7 210.6 492.1 214.4 492.5 219.9 492.9 212.3 493.3 215.2 493.7 212.5 494.1 220.9 494.5 212.1 494.9 209.7 495.2 223.2 495.6 215.8 496.0 217.3 496.4 215.4 496.8 221.3 497.2 210.9 497.6 217.7 498.0 213.6 498.4 212.9 498.8 217.3 499.2 219.1 499.6 207.3 499.9 220.6 500.3 218.8 500.7 217.9 501.1 214.0 501.5 216.4 501.9 219.1 502.3 214.4 502.7 214.2 503.1 212.4 503.5 215.8 503.9 217.9 504.3 222.6 504.6 215.6 505.0 214.6 505.4 216.1 505.8 211.5 506.2 218.8 506.6 211.6 507.0 214.0 507.4 211.3 507.8 211.3 508.2 217.5 508.6 213.0 508.9 216.8 509.3 215.0 509.7 210.5 510.1 213.4 510.5 219.9 510.9 230.7 511.3 231.2 511.7 238.1 512.1 243.1 512.5 248.6 512.9 249.4 513.3 257.4 513.6 258.6 514.0 270.8 514.4 273.7 514.8 270.9 515.2 285.7 515.6 278.4 516.0 289.7 516.4 293.5 516.8 293.6 517.2 293.6 517.6 294.9 518.0 294.1 518.3 291.0 518.7 296.6 519.1 298.6 519.5 295.8 519.9 303.6 520.3 296.2 520.7 297.1 521.1 293.7 521.5 302.3 521.9 300.5 522.3 295.5 522.6 299.8 523.0 293.6 523.4 297.5 523.8 306.0 524.2 300.0 524.6 298.3 525.0 298.4 525.4 299.4 525.8 297.2 526.2 299.6 526.6 301.0 527.0 301.3 527.3 303.6 527.7 311.0 528.1 306.7 528.5 305.5 528.9 303.2 529.3 305.6 529.7 309.5 530.1 300.7 530.5 308.6 530.9 312.2 531.3 310.0 531.6 313.3 532.0 316.4 532.4 310.5 532.8 310.8 533.2 310.3 533.6 317.5 534.0 309.0 534.4 307.9 534.8 316.3 535.2 315.2 535.6 312.6 536.0 318.3 536.3 320.3 536.7 313.4 537.1 318.0 537.5 315.4 537.9 318.0 538.3 311.7 538.7 314.9 539.1 316.2 539.5 309.0 539.9 316.8 540.3 311.4 540.7 315.6 541.0 307.9 541.4 308.9 541.8 307.5 542.2 308.4 542.6 312.8 543.0 305.2 543.4 302.0 543.8 306.0 544.2 297.3 544.6 285.3 545.0 276.6 545.3 289.2 545.7 288.5 546.1 286.7 546.5 276.7 546.9 282.8 547.3 278.4 547.7 280.4 548.1 283.7 548.5 279.5 548.9 283.8 549.3 283.0 549.7 286.8 550.0 288.4 550.4 283.7 550.8 286.0 551.2 287.9 551.6 278.4 552.0 286.7 552.4 287.9 552.8 284.3 553.2 284.3 553.6 288.3 554.0 287.1 554.4 283.2 554.7 287.7 555.1 281.4 555.5 281.0 555.9 284.4 556.3 281.3 556.7 289.9 557.1 289.2 557.5 281.5 557.9 285.2 558.3 290.0 558.7 282.3 559.0 284.5 559.4 283.7 559.8 290.0 560.2 286.4 560.6 272.2 561.0 264.9 561.4 263.5 561.8 255.8 562.2 257.2 562.6 262.5 563.0 253.7 563.4 261.1 563.7 251.8 564.1 255.8 564.5 254.1 564.9 256.2 565.3 254.7 565.7 256.2 566.1 256.4 566.5 249.2 566.9 258.8 567.3 255.6 567.7 251.3 568.1 255.7 568.4 255.7 568.8 247.5 569.2 255.6 569.6 254.7 570.0 247.8 570.4 252.6 570.8 251.9 571.2 247.4 571.6 250.7 572.0 241.1 572.4 241.0 572.7 240.9 573.1 246.9 573.5 246.3 573.9 237.6 574.3 236.8 574.7 242.8 575.1 242.1 575.5 239.2 575.9 240.4 576.3 237.2 576.7 232.7 577.1 231.5 577.4 236.0 577.8 233.2 578.2 232.2 578.6 229.4 579.0 228.2 579.4 214.8 579.8 218.1 580.2 217.8 580.6 213.0 581.0 208.4 581.4 212.3 581.8 215.7 582.1 215.2 582.5 216.4 582.9 217.5 583.3 211.7 583.7 211.2 584.1 214.9 584.5 212.8 584.9 212.5 585.3 213.7 585.7 218.5 586.1 216.6 586.4 217.6 586.8 210.9 587.2 213.8 587.6 210.5 588.0 211.0 588.4 211.9 588.8 217.4 589.2 213.1 589.6 220.5 590.0 213.3 590.4 219.8 590.8 208.9 591.1 211.7 591.5 219.0 591.9 211.7 592.3 212.1 592.7 220.8 593.1 212.4 593.5 216.1 593.9 213.1 594.3 211.3 594.7 212.7 595.1 220.5 595.5 214.7 595.8 213.4 596.2 218.9 596.6 218.4 597.0 216.3 597.4 219.0 597.8 219.0 598.2 213.5 598.6 209.4 599.0 216.6 599.4 212.7 599.8 213.3 600.1 215.2 600.5 214.6 600.9 222.9 601.3 212.5 601.7 218.1 602.1 219.3 602.5 215.0 602.9 213.1 603.3 211.1 603.7 218.3 604.1 208.8 604.5 213.5 604.8 211.3 605.2 215.2 605.6 221.8 606.0 221.8 606.4 213.8 606.8 215.6 607.2 216.4 607.6 217.5 608.0 218.1 608.4 214.2 608.8 217.4 609.1 209.5 609.5 219.5 609.9 210.2 610.3 210.8 610.7 217.0 611.1 212.7 611.5 212.7 611.9 216.0 612.3 212.7 612.7 211.0 613.1 216.9 613.5 210.5 613.8 219.5 614.2 221.5 614.6 216.0 615.0 218.4 615.4 216.4 615.8 213.7 616.2 216.9 616.6 208.9 617.0 211.5 617.4 217.4 617.8 217.0 618.2 212.9 618.5 218.6 618.9 218.2 619.3 212.4 619.7 222.1 620.1 209.6 620.5 212.8 620.9 216.5 621.3 219.5 621.7 215.4 622.1 219.0 622.5 210.6 622.8 214.6 623.2 217.0 623.6 212.5 624.0 214.6 624.4 218.3 624.8 217.3 625.2 220.6 625.6 224.5 626.0 244.9 626.4 249.3 626.8 241.8 627.2 250.1 627.5 243.7 627.9 253.9 628.3 248.3 628.7 251.0 629.1 244.7 629.5 248.4 629.9 253.0 630.3 253.5 630.7 248.8 631.1 255.3 631.5 248.4 631.9 247.9 632.2 252.4 632.6 255.1 633.0 248.9 633.4 253.4 633.8 245.4 634.2 255.1 634.6 245.9 635.0 253.9 635.4 247.2 635.8 244.6 636.2 254.7 636.5 247.1 636.9 244.3 637.3 250.3 637.7 248.6 638.1 251.5 638.5 254.1 638.9 247.3 639.3 247.3 639.7 253.8 640.1 255.2 640.5 251.1 640.9 248.7 641.2 252.8 641.6 248.2 642.0 247.0 642.4 245.6 642.8 251.1 643.2 250.5 643.6 247.4 644.0 256.0 644.4 251.8 644.8 261.5 645.2 259.4 645.6 270.7 645.9 271.8 646.3 282.4 646.7 284.9 647.1 288.1 647.5 287.5 647.9 289.8 648.3 297.0 648.7 294.2 649.1 299.5 649.5 302.6 649.9 294.6 650.2 293.6 650.6 296.3 651.0 299.4 651.4 299.1 651.8 300.0 652.2 302.2 652.6 302.6 653.0 301.3 653.4 307.0 653.8 299.9 654.2 303.2 654.6 304.7 654.9 305.5 655.3 302.6 655.7 302.9 656.1 308.9 656.5 312.5 656.9 308.2 657.3 308.3 657.7 311.9 658.1 320.9 658.5 320.9 658.9 316.4 659.3 313.4 659.6 315.4 660.0 320.0 660.4 321.2 660.8 322.9 661.2 327.9 661.6 331.4 662.0 324.8 662.4 325.8 662.8 323.2 663.2 331.4 663.6 325.5 663.9 333.0 664.3 332.4 664.7 330.0 665.1 338.5 665.5 329.8 665.9 330.4 666.3 331.0 666.7 343.1 667.1 333.0 667.5 328.8 667.9 323.0 668.3 328.4 668.6 326.2 669.0 315.2 669.4 319.8 669.8 320.1 670.2 318.4 670.6 310.0 671.0 308.8 671.4 303.7 671.8 301.2 672.2 308.8 672.6 296.2 673.0 294.1 673.3 292.0 673.7 291.9 674.1 294.5 674.5 296.1 674.9 288.9 675.3 293.1 675.7 292.4 676.1 290.6 676.5 290.9 676.9 288.1 677.3 292.0 677.6 292.8 678.0 289.3 678.4 295.0 678.8 295.3 679.2 286.0 679.6 287.7 680.0 289.5 680.4 295.9 680.8 297.8 681.2 286.7 681.6 287.6 682.0 295.7 682.3 291.0" fill="none" stroke="#dc1818" stroke-width="1.15" stroke-linejoin="bevel"/>
<path d="M415.4 263.4 L415.8 262.3 416.2 265.8 416.6 260.0 417.0 263.4 417.4 263.0 417.7 266.1 418.1 265.6 418.5 261.7 418.9 263.6 419.3 267.6 419.7 261.5 420.1 263.7 420.5 257.7 420.9 258.5 421.3 258.5 421.7 258.0 422.1 258.4 422.4 264.0 422.8 262.5 423.2 265.7 423.6 264.4 424.0 267.0 424.4 265.4 424.8 264.6 425.2 265.2 425.6 259.3 426.0 264.3 426.4 265.9 426.8 263.2 427.1 265.6 427.5 260.0 427.9 263.2 428.3 260.3 428.7 266.6 429.1 262.5 429.5 258.4 429.9 264.2 430.3 261.4 430.7 260.3 431.1 268.8 431.4 266.4 431.8 257.5 432.2 264.5 432.6 259.9 433.0 263.4 433.4 257.9 433.8 264.4 434.2 263.7 434.6 260.0 435.0 258.9 435.4 264.7 435.8 257.8 436.1 251.6 436.5 248.7 436.9 253.3 437.3 249.7 437.7 248.9 438.1 246.9 438.5 252.7 438.9 248.8 439.3 254.7 439.7 251.8 440.1 250.8 440.5 246.4 440.8 256.2 441.2 242.9 441.6 254.2 442.0 256.1 442.4 252.2 442.8 251.5 443.2 245.3 443.6 245.9 444.0 245.0 444.4 252.4 444.8 256.4 445.1 248.0 445.5 245.5 445.9 252.9 446.3 246.8 446.7 258.5 447.1 243.1 447.5 240.5 447.9 230.8 448.3 226.7 448.7 235.9 449.1 228.2 449.5 233.4 449.8 229.7 450.2 235.1 450.6 232.6 451.0 229.4 451.4 238.1 451.8 230.9 452.2 224.7 452.6 235.2 453.0 223.8 453.4 230.0 453.8 233.6 454.1 222.1 454.5 230.3 454.9 230.6 455.3 232.3 455.7 226.1 456.1 233.4 456.5 232.5 456.9 232.3 457.3 235.5 457.7 225.0 458.1 231.6 458.5 228.9 458.8 225.5 459.2 230.7 459.6 232.2 460.0 230.1 460.4 230.6 460.8 230.2 461.2 232.1 461.6 230.2 462.0 226.9 462.4 232.6 462.8 223.2 463.2 231.6 463.5 229.9 463.9 234.3 464.3 230.7 464.7 231.3 465.1 231.2 465.5 226.6 465.9 232.6 466.3 225.5 466.7 232.5 467.1 229.6 467.5 232.7 467.8 225.6 468.2 229.7 468.6 225.6 469.0 234.7 469.4 228.4 469.8 231.4 470.2 230.4 470.6 228.1 471.0 233.4 471.4 230.0 471.8 224.7 472.2 232.8 472.5 228.8 472.9 232.8 473.3 234.7 473.7 230.0 474.1 229.3 474.5 228.5 474.9 222.6 475.3 227.6 475.7 232.2 476.1 228.7 476.5 226.9 476.9 225.8 477.2 227.8 477.6 229.2 478.0 233.1 478.4 224.6 478.8 232.6 479.2 230.4 479.6 224.4 480.0 232.3 480.4 228.1 480.8 233.8 481.2 235.3 481.5 229.8 481.9 226.1 482.3 229.9 482.7 225.1 483.1 231.0 483.5 226.0 483.9 232.4 484.3 232.9 484.7 233.8 485.1 225.3 485.5 229.7 485.9 230.0 486.2 232.4 486.6 227.4 487.0 224.1 487.4 233.5 487.8 231.3 488.2 225.7 488.6 224.7 489.0 224.9 489.4 232.8 489.8 228.7 490.2 234.3 490.6 230.9 490.9 229.3 491.3 232.5 491.7 231.6 492.1 232.6 492.5 233.2 492.9 235.0 493.3 226.5 493.7 235.6 494.1 224.0 494.5 225.1 494.9 224.0 495.2 227.2 495.6 234.5 496.0 234.9 496.4 230.8 496.8 235.4 497.2 235.9 497.6 223.8 498.0 225.1 498.4 227.3 498.8 232.2 499.2 226.7 499.6 225.9 499.9 234.0 500.3 234.5 500.7 234.6 501.1 230.2 501.5 225.0 501.9 235.5 502.3 228.9 502.7 232.0 503.1 227.3 503.5 236.2 503.9 226.3 504.3 231.9 504.6 228.7 505.0 226.7 505.4 227.1 505.8 224.3 506.2 232.2 506.6 230.5 507.0 234.3 507.4 235.0 507.8 233.3 508.2 226.8 508.6 235.2 508.9 231.7 509.3 226.6 509.7 225.4 510.1 224.2 510.5 235.7 510.9 242.8 511.3 239.5 511.7 248.2 512.1 247.3 512.5 261.4 512.9 263.5 513.3 257.7 513.6 258.3 514.0 259.2 514.4 261.4 514.8 260.5 515.2 268.2 515.6 268.6 516.0 265.7 516.4 265.3 516.8 269.1 517.2 270.8 517.6 267.1 518.0 269.7 518.3 270.8 518.7 262.8 519.1 264.5 519.5 277.6 519.9 271.5 520.3 274.1 520.7 275.0 521.1 277.9 521.5 278.5 521.9 279.9 522.3 280.2 522.6 274.6 523.0 281.3 523.4 271.9 523.8 272.6 524.2 279.2 524.6 275.3 525.0 272.2 525.4 281.9 525.8 279.1 526.2 279.6 526.6 281.7 527.0 281.6 527.3 284.3 527.7 278.1 528.1 284.2 528.5 280.3 528.9 275.1 529.3 284.1 529.7 283.0 530.1 277.3 530.5 278.8 530.9 281.4 531.3 285.7 531.6 280.6 532.0 283.2 532.4 280.1 532.8 279.2 533.2 283.3 533.6 272.5 534.0 273.4 534.4 271.5 534.8 275.4 535.2 275.7 535.6 276.2 536.0 274.9 536.3 270.6 536.7 270.4 537.1 268.1 537.5 262.5 537.9 255.8 538.3 261.9 538.7 257.7 539.1 266.4 539.5 265.1 539.9 257.3 540.3 267.6 540.7 267.7 541.0 265.7 541.4 268.1 541.8 270.3 542.2 265.0 542.6 264.2 543.0 270.5 543.4 268.8 543.8 269.1 544.2 259.9 544.6 267.4 545.0 265.0 545.3 260.8 545.7 269.1 546.1 257.0 546.5 256.0 546.9 263.3 547.3 259.6 547.7 265.5 548.1 257.2 548.5 264.9 548.9 267.5 549.3 266.7 549.7 260.5 550.0 265.9 550.4 257.0 550.8 261.0 551.2 259.3 551.6 260.7 552.0 261.4 552.4 255.7 552.8 259.9 553.2 262.9 553.6 264.3 554.0 266.9 554.4 265.0 554.7 264.0 555.1 265.8 555.5 257.4 555.9 264.9 556.3 261.9 556.7 268.3 557.1 259.7 557.5 262.5 557.9 267.4 558.3 255.7 558.7 267.2 559.0 264.0 559.4 257.8 559.8 263.6 560.2 253.8 560.6 260.2 561.0 256.6 561.4 252.7 561.8 250.6 562.2 249.1 562.6 257.0 563.0 253.3 563.4 255.4 563.7 254.2 564.1 257.9 564.5 250.6 564.9 254.0 565.3 257.4 565.7 257.1 566.1 256.5 566.5 250.9 566.9 255.4 567.3 253.3 567.7 250.3 568.1 256.1 568.4 252.0 568.8 256.0 569.2 261.8 569.6 261.9 570.0 252.9 570.4 255.2 570.8 247.3 571.2 252.1 571.6 249.1 572.0 254.3 572.4 248.3 572.7 248.7 573.1 251.0 573.5 252.7 573.9 246.9 574.3 247.6 574.7 252.7 575.1 255.9 575.5 249.2 575.9 253.4 576.3 247.3 576.7 250.1 577.1 253.9 577.4 248.5 577.8 252.5 578.2 249.0 578.6 246.5 579.0 252.0 579.4 247.0 579.8 252.8 580.2 253.2 580.6 250.7 581.0 250.8 581.4 239.6 581.8 234.1 582.1 227.1 582.5 223.9 582.9 227.1 583.3 225.3 583.7 226.6 584.1 224.3 584.5 236.1 584.9 234.9 585.3 228.1 585.7 232.4 586.1 225.6 586.4 232.6 586.8 227.4 587.2 234.7 587.6 225.9 588.0 223.5 588.4 224.2 588.8 230.9 589.2 228.9 589.6 228.0 590.0 230.5 590.4 228.9 590.8 225.2 591.1 224.8 591.5 232.4 591.9 228.8 592.3 225.7 592.7 230.9 593.1 224.6 593.5 227.7 593.9 223.4 594.3 233.0 594.7 225.2 595.1 224.6 595.5 232.8 595.8 227.2 596.2 234.9 596.6 229.7 597.0 226.9 597.4 229.0 597.8 225.4 598.2 230.9 598.6 233.9 599.0 225.2 599.4 234.7 599.8 232.1 600.1 232.6 600.5 227.4 600.9 230.6 601.3 225.9 601.7 226.5 602.1 224.1 602.5 226.0 602.9 226.1 603.3 233.1 603.7 231.6 604.1 226.8 604.5 228.4 604.8 226.5 605.2 226.9 605.6 231.1 606.0 233.8 606.4 227.0 606.8 227.4 607.2 230.6 607.6 235.0 608.0 233.5 608.4 231.4 608.8 232.3 609.1 232.2 609.5 235.1 609.9 234.4 610.3 231.7 610.7 235.4 611.1 232.6 611.5 230.4 611.9 225.1 612.3 224.5 612.7 234.0 613.1 233.7 613.5 234.2 613.8 227.5 614.2 231.7 614.6 228.8 615.0 225.6 615.4 229.6 615.8 225.3 616.2 234.6 616.6 234.0 617.0 234.5 617.4 229.4 617.8 228.9 618.2 233.3 618.5 231.6 618.9 230.5 619.3 235.4 619.7 234.2 620.1 231.5 620.5 224.9 620.9 231.4 621.3 228.4 621.7 230.6 622.1 231.3 622.5 235.3 622.8 234.2 623.2 227.0 623.6 229.7 624.0 231.7 624.4 224.4 624.8 225.3 625.2 232.2 625.6 228.4 626.0 229.6 626.4 233.1 626.8 229.8 627.2 233.2 627.5 225.9 627.9 234.3 628.3 224.5 628.7 232.2 629.1 230.6 629.5 233.5 629.9 225.1 630.3 225.7 630.7 232.3 631.1 230.5 631.5 230.8 631.9 227.6 632.2 231.5 632.6 224.3 633.0 234.3 633.4 227.5 633.8 234.2 634.2 232.2 634.6 235.2 635.0 235.1 635.4 236.4 635.8 235.6 636.2 244.1 636.5 243.1 636.9 232.4 637.3 241.5 637.7 241.6 638.1 246.1 638.5 239.7 638.9 238.9 639.3 245.8 639.7 247.6 640.1 253.4 640.5 258.3 640.9 261.2 641.2 265.3 641.6 265.9 642.0 260.0 642.4 273.9 642.8 270.7 643.2 277.6 643.6 285.4 644.0 278.3 644.4 289.4 644.8 293.3 645.2 286.8 645.6 292.5 645.9 293.6 646.3 286.7 646.7 294.5 647.1 286.3 647.5 294.4 647.9 291.4 648.3 292.0 648.7 292.2 649.1 288.6 649.5 288.9 649.9 295.9 650.2 291.4 650.6 297.5 651.0 296.1 651.4 298.0 651.8 294.7 652.2 293.7 652.6 292.7 653.0 290.4 653.4 296.2 653.8 300.6 654.2 300.6 654.6 295.6 654.9 291.1 655.3 297.1 655.7 294.6 656.1 290.6 656.5 292.6 656.9 293.9 657.3 296.4 657.7 301.2 658.1 296.0 658.5 298.9 658.9 296.4 659.3 302.2 659.6 293.0 660.0 302.7 660.4 295.2 660.8 296.7 661.2 303.3 661.6 296.3 662.0 299.2 662.4 299.9 662.8 302.0 663.2 301.6 663.6 304.4 663.9 302.6 664.3 299.2 664.7 298.8 665.1 297.1 665.5 304.6 665.9 305.2 666.3 298.8 666.7 296.2 667.1 304.9 667.5 302.2 667.9 302.6 668.3 297.1 668.6 308.6 669.0 299.8 669.4 299.3 669.8 303.9 670.2 300.8 670.6 302.0 671.0 299.1 671.4 299.1 671.8 293.6 672.2 299.4 672.6 293.9 673.0 296.6 673.3 298.2 673.7 288.3 674.1 295.7 674.5 285.3 674.9 285.6 675.3 286.4 675.7 289.1 676.1 285.8 676.5 281.9 676.9 287.7 677.3 281.1 677.6 281.3 678.0 282.3 678.4 284.0 678.8 281.7 679.2 288.2 679.6 288.0 680.0 284.8 680.4 277.2 680.8 280.9 681.2 277.0 681.6 285.6 682.0 282.4 682.3 276.4" fill="none" stroke="#1cc4c4" stroke-width="1.15" stroke-linejoin="bevel"/>
<path d="M415.4 235.4 L415.8 239.2 416.2 238.4 416.6 237.5 417.0 235.1 417.4 240.7 417.7 235.9 418.1 236.5 418.5 242.8 418.9 241.4 419.3 240.7 419.7 240.1 420.1 232.5 420.5 234.6 420.9 245.0 421.3 245.1 421.7 242.7 422.1 242.1 422.4 243.8 422.8 236.7 423.2 240.6 423.6 238.3 424.0 241.1 424.4 233.9 424.8 237.0 425.2 244.2 425.6 234.3 426.0 242.0 426.4 240.6 426.8 241.0 427.1 238.9 427.5 243.5 427.9 241.1 428.3 244.6 428.7 234.7 429.1 241.8 429.5 242.6 429.9 239.9 430.3 244.0 430.7 240.4 431.1 240.4 431.4 239.4 431.8 239.9 432.2 241.7 432.6 237.0 433.0 236.4 433.4 241.0 433.8 242.1 434.2 237.6 434.6 239.9 435.0 235.5 435.4 244.6 435.8 237.9 436.1 240.2 436.5 243.1 436.9 236.8 437.3 243.3 437.7 235.6 438.1 237.7 438.5 234.3 438.9 243.2 439.3 243.8 439.7 245.2 440.1 239.5 440.5 233.1 440.8 237.8 441.2 241.9 441.6 242.5 442.0 237.5 442.4 235.0 442.8 246.0 443.2 238.5 443.6 244.0 444.0 241.5 444.4 245.2 444.8 233.5 445.1 238.6 445.5 237.7 445.9 242.9 446.3 239.1 446.7 238.4 447.1 235.4 447.5 234.8 447.9 241.9 448.3 242.2 448.7 240.2 449.1 241.5 449.5 236.3 449.8 241.3 450.2 240.3 450.6 239.3 451.0 239.7 451.4 241.7 451.8 245.7 452.2 236.6 452.6 243.5 453.0 235.0 453.4 242.9 453.8 242.1 454.1 240.2 454.5 237.5 454.9 240.7 455.3 241.2 455.7 241.2 456.1 245.0 456.5 241.1 456.9 235.6 457.3 233.9 457.7 242.6 458.1 235.6 458.5 246.5 458.8 236.2 459.2 244.4 459.6 239.3 460.0 238.4 460.4 239.7 460.8 233.8 461.2 241.1 461.6 244.8 462.0 244.2 462.4 237.3 462.8 241.5 463.2 246.3 463.5 242.6 463.9 233.3 464.3 239.8 464.7 244.4 465.1 237.6 465.5 241.2 465.9 239.8 466.3 233.6 466.7 237.4 467.1 239.4 467.5 232.8 467.8 240.3 468.2 239.4 468.6 235.8 469.0 233.5 469.4 236.7 469.8 240.6 470.2 241.4 470.6 245.8 471.0 243.2 471.4 235.9 471.8 238.7 472.2 234.0 472.5 237.8 472.9 238.4 473.3 237.4 473.7 241.6 474.1 238.2 474.5 240.1 474.9 242.6 475.3 238.0 475.7 243.7 476.1 234.6 476.5 235.7 476.9 233.1 477.2 239.5 477.6 240.2 478.0 239.7 478.4 240.6 478.8 240.9 479.2 237.4 479.6 236.2 480.0 239.4 480.4 236.0 480.8 240.3 481.2 236.8 481.5 234.6 481.9 237.1 482.3 233.4 482.7 235.7 483.1 236.7 483.5 237.4 483.9 244.9 484.3 243.5 484.7 234.6 485.1 243.3 485.5 237.5 485.9 243.7 486.2 237.0 486.6 235.2 487.0 238.7 487.4 247.4 487.8 238.2 488.2 244.2 488.6 236.9 489.0 246.6 489.4 246.6 489.8 241.5 490.2 242.1 490.6 238.6 490.9 243.4 491.3 240.5 491.7 238.0 492.1 238.6 492.5 246.4 492.9 244.6 493.3 248.2 493.7 245.8 494.1 245.6 494.5 242.4 494.9 239.6 495.2 235.5 495.6 241.6 496.0 243.1 496.4 238.1 496.8 234.9 497.2 234.3 497.6 247.4 498.0 240.6 498.4 237.8 498.8 240.9 499.2 244.5 499.6 234.7 499.9 240.0 500.3 245.0 500.7 242.8 501.1 237.1 501.5 242.4 501.9 236.4 502.3 245.6 502.7 240.0 503.1 242.2 503.5 245.1 503.9 233.9 504.3 243.4 504.6 234.9 505.0 235.8 505.4 240.6 505.8 245.5 506.2 240.7 506.6 242.6 507.0 234.9 507.4 242.9 507.8 235.9 508.2 245.9 508.6 241.6 508.9 242.2 509.3 235.6 509.7 239.2 510.1 238.5 510.5 245.7 510.9 245.6 511.3 243.2 511.7 249.6 512.1 247.9 512.5 256.3 512.9 260.7 513.3 256.0 513.6 266.7 514.0 266.8 514.4 262.4 514.8 268.2 515.2 260.3 515.6 264.3 516.0 267.8 516.4 267.1 516.8 269.9 517.2 275.9 517.6 274.2 518.0 273.9 518.3 278.5 518.7 277.6 519.1 276.2 519.5 274.5 519.9 275.3 520.3 279.7 520.7 275.1 521.1 276.0 521.5 276.4 521.9 278.0 522.3 282.4 522.6 274.0 523.0 276.1 523.4 283.2 523.8 279.0 524.2 278.1 524.6 282.1 525.0 282.0 525.4 276.6 525.8 278.1 526.2 282.2 526.6 288.8 527.0 284.6 527.3 277.1 527.7 284.7 528.1 281.3 528.5 288.4 528.9 284.9 529.3 282.0 529.7 282.0 530.1 280.2 530.5 286.8 530.9 287.2 531.3 290.3 531.6 287.1 532.0 286.7 532.4 279.1 532.8 285.7 533.2 283.9 533.6 284.4 534.0 291.7 534.4 287.2 534.8 281.0 535.2 290.9 535.6 289.4 536.0 280.9 536.3 281.5 536.7 288.7 537.1 288.1 537.5 281.2 537.9 284.0 538.3 284.4 538.7 278.9 539.1 281.1 539.5 277.3 539.9 286.8 540.3 278.2 540.7 282.3 541.0 285.8 541.4 281.6 541.8 286.4 542.2 286.8 542.6 287.4 543.0 278.6 543.4 278.4 543.8 280.2 544.2 260.2 544.6 235.5 545.0 239.7 545.3 240.8 545.7 233.8 546.1 238.0 546.5 238.0 546.9 235.6 547.3 244.6 547.7 239.2 548.1 235.2 548.5 234.7 548.9 233.2 549.3 240.6 549.7 237.5 550.0 241.0 550.4 242.2 550.8 241.2 551.2 240.8 551.6 240.2 552.0 237.6 552.4 238.3 552.8 234.8 553.2 235.9 553.6 236.8 554.0 236.1 554.4 237.7 554.7 240.3 555.1 238.7 555.5 237.5 555.9 232.0 556.3 233.1 556.7 243.4 557.1 236.0 557.5 241.4 557.9 237.5 558.3 234.3 558.7 236.9 559.0 241.3 559.4 238.7 559.8 242.1 560.2 237.9 560.6 235.8 561.0 234.3 561.4 240.1 561.8 237.4 562.2 240.8 562.6 234.3 563.0 232.9 563.4 242.9 563.7 238.1 564.1 236.4 564.5 241.0 564.9 243.6 565.3 244.1 565.7 235.5 566.1 243.6 566.5 240.4 566.9 235.3 567.3 242.9 567.7 234.6 568.1 237.5 568.4 240.3 568.8 237.2 569.2 239.1 569.6 234.0 570.0 235.7 570.4 238.6 570.8 240.7 571.2 239.2 571.6 231.7 572.0 233.7 572.4 243.4 572.7 238.7 573.1 237.7 573.5 240.3 573.9 243.0 574.3 241.6 574.7 239.2 575.1 234.7 575.5 235.7 575.9 236.0 576.3 235.8 576.7 242.1 577.1 241.4 577.4 240.4 577.8 239.3 578.2 240.0 578.6 239.9 579.0 241.5 579.4 242.8 579.8 233.7 580.2 232.4 580.6 236.7 581.0 241.0 581.4 239.6 581.8 234.2 582.1 236.6 582.5 235.8 582.9 234.2 583.3 233.4 583.7 236.9 584.1 243.8 584.5 236.8 584.9 234.6 585.3 241.8 585.7 242.0 586.1 243.6 586.4 242.5 586.8 244.3 587.2 235.5 587.6 238.8 588.0 235.4 588.4 237.6 588.8 240.7 589.2 234.0 589.6 241.7 590.0 240.4 590.4 239.8 590.8 237.7 591.1 235.4 591.5 235.4 591.9 237.7 592.3 240.4 592.7 237.8 593.1 233.5 593.5 238.6 593.9 235.6 594.3 240.0 594.7 238.7 595.1 235.8 595.5 242.7 595.8 241.0 596.2 242.6 596.6 239.8 597.0 235.9 597.4 235.6 597.8 242.3 598.2 240.6 598.6 242.2 599.0 237.1 599.4 238.9 599.8 241.2 600.1 243.9 600.5 233.3 600.9 239.2 601.3 233.5 601.7 240.0 602.1 242.2 602.5 235.3 602.9 232.5 603.3 242.1 603.7 235.7 604.1 238.1 604.5 232.7 604.8 233.4 605.2 240.0 605.6 233.3 606.0 241.6 606.4 238.8 606.8 238.4 607.2 242.2 607.6 238.9 608.0 235.7 608.4 243.0 608.8 240.7 609.1 238.3 609.5 243.3 609.9 235.3 610.3 239.7 610.7 235.9 611.1 236.8 611.5 236.0 611.9 232.4 612.3 233.7 612.7 237.8 613.1 242.1 613.5 242.0 613.8 234.6 614.2 233.6 614.6 235.0 615.0 232.3 615.4 234.9 615.8 235.1 616.2 236.6 616.6 237.9 617.0 234.7 617.4 237.2 617.8 235.4 618.2 232.5 618.5 238.7 618.9 235.3 619.3 240.8 619.7 238.5 620.1 234.0 620.5 232.4 620.9 233.3 621.3 235.0 621.7 235.8 622.1 233.2 622.5 235.4 622.8 241.3 623.2 245.5 623.6 234.1 624.0 235.8 624.4 238.8 624.8 237.8 625.2 236.1 625.6 235.6 626.0 236.9 626.4 236.0 626.8 241.6 627.2 240.1 627.5 238.2 627.9 237.5 628.3 240.7 628.7 243.9 629.1 237.4 629.5 242.6 629.9 237.1 630.3 244.2 630.7 235.6 631.1 240.0 631.5 234.4 631.9 244.1 632.2 242.5 632.6 237.9 633.0 234.7 633.4 240.4 633.8 238.6 634.2 236.0 634.6 241.5 635.0 239.0 635.4 236.5 635.8 240.5 636.2 241.3 636.5 234.5 636.9 242.0 637.3 232.7 637.7 235.6 638.1 239.3 638.5 234.9 638.9 244.2 639.3 237.8 639.7 239.2 640.1 241.2 640.5 233.9 640.9 245.5 641.2 234.3 641.6 246.6 642.0 244.9 642.4 254.8 642.8 258.0 643.2 258.8 643.6 264.3 644.0 278.7 644.4 281.1 644.8 277.1 645.2 276.6 645.6 282.4 645.9 276.0 646.3 274.6 646.7 275.2 647.1 282.9 647.5 284.3 647.9 276.3 648.3 280.4 648.7 284.2 649.1 286.1 649.5 283.1 649.9 280.2 650.2 278.3 650.6 283.8 651.0 277.6 651.4 280.4 651.8 285.0 652.2 285.2 652.6 286.6 653.0 285.8 653.4 280.6 653.8 281.3 654.2 287.5 654.6 283.9 654.9 279.0 655.3 284.4 655.7 290.0 656.1 285.4 656.5 286.7 656.9 292.2 657.3 281.1 657.7 283.9 658.1 292.7 658.5 286.3 658.9 289.0 659.3 291.7 659.6 290.4 660.0 292.8 660.4 285.5 660.8 288.4 661.2 285.2 661.6 283.8 662.0 288.3 662.4 290.7 662.8 291.7 663.2 287.7 663.6 285.6 663.9 285.4 664.3 293.1 664.7 292.7 665.1 284.4 665.5 287.8 665.9 293.6 666.3 285.8 666.7 290.7 667.1 289.0 667.5 287.8 667.9 286.2 668.3 292.3 668.6 284.2 669.0 286.0 669.4 281.7 669.8 286.7 670.2 291.0 670.6 284.6 671.0 288.6 671.4 286.9 671.8 286.2 672.2 291.5 672.6 285.5 673.0 286.9 673.3 292.8 673.7 290.5 674.1 293.2 674.5 288.3 674.9 281.0 675.3 285.6 675.7 283.1 676.1 276.5 676.5 283.8 676.9 278.8 677.3 271.8 677.6 275.7 678.0 268.7 678.4 263.4 678.8 267.9 679.2 267.3 679.6 266.2 680.0 261.4 680.4 253.3 680.8 252.7 681.2 252.1 681.6 253.1 682.0 253.6 682.3 246.6" fill="none" stroke="#b828c8" stroke-width="1.15" stroke-linejoin="bevel"/>
<path d="M415.4 263.3 L415.8 260.0 416.2 262.4 416.6 262.2 417.0 261.4 417.4 260.0 417.7 253.8 418.1 259.7 418.5 259.0 418.9 261.0 419.3 260.6 419.7 263.0 420.1 256.7 420.5 261.2 420.9 259.8 421.3 257.7 421.7 264.2 422.1 253.6 422.4 264.3 422.8 259.2 423.2 252.5 423.6 262.5 424.0 263.4 424.4 259.7 424.8 256.5 425.2 261.1 425.6 261.2 426.0 255.8 426.4 256.8 426.8 260.8 427.1 254.2 427.5 254.8 427.9 258.2 428.3 260.6 428.7 255.8 429.1 258.9 429.5 262.2 429.9 254.7 430.3 262.6 430.7 256.0 431.1 258.4 431.4 255.5 431.8 259.1 432.2 254.3 432.6 260.0 433.0 262.4 433.4 254.6 433.8 256.5 434.2 257.7 434.6 253.9 435.0 257.0 435.4 249.8 435.8 246.0 436.1 226.5 436.5 221.3 436.9 218.4 437.3 225.3 437.7 223.7 438.1 220.4 438.5 223.2 438.9 227.3 439.3 226.0 439.7 218.5 440.1 221.9 440.5 228.1 440.8 227.3 441.2 223.9 441.6 228.2 442.0 222.7 442.4 224.2 442.8 228.7 443.2 226.6 443.6 219.7 444.0 227.2 444.4 227.5 444.8 219.6 445.1 222.9 445.5 224.0 445.9 220.3 446.3 227.4 446.7 229.6 447.1 220.9 447.5 221.8 447.9 224.4 448.3 222.1 448.7 228.7 449.1 228.1 449.5 222.2 449.8 219.0 450.2 226.3 450.6 229.6 451.0 228.1 451.4 227.0 451.8 221.7 452.2 222.6 452.6 222.6 453.0 219.6 453.4 223.2 453.8 221.9 454.1 222.3 454.5 223.3 454.9 220.3 455.3 218.9 455.7 227.1 456.1 222.0 456.5 228.7 456.9 227.8 457.3 220.5 457.7 225.6 458.1 223.8 458.5 225.6 458.8 222.7 459.2 230.7 459.6 222.1 460.0 218.3 460.4 222.0 460.8 221.4 461.2 222.4 461.6 226.4 462.0 220.9 462.4 224.9 462.8 226.6 463.2 223.0 463.5 218.3 463.9 221.7 464.3 222.5 464.7 227.8 465.1 219.3 465.5 224.3 465.9 223.0 466.3 222.3 466.7 220.2 467.1 228.5 467.5 227.2 467.8 227.1 468.2 227.2 468.6 222.1 469.0 228.9 469.4 226.4 469.8 222.4 470.2 230.4 470.6 219.8 471.0 226.1 471.4 224.8 471.8 222.4 472.2 218.2 472.5 226.0 472.9 226.4 473.3 225.1 473.7 220.5 474.1 218.6 474.5 227.1 474.9 230.1 475.3 225.8 475.7 225.7 476.1 221.1 476.5 220.7 476.9 221.9 477.2 225.1 477.6 225.1 478.0 217.8 478.4 229.2 478.8 229.0 479.2 228.7 479.6 221.3 480.0 222.8 480.4 221.9 480.8 221.9 481.2 219.9 481.5 222.3 481.9 224.7 482.3 226.2 482.7 224.2 483.1 227.4 483.5 218.9 483.9 219.7 484.3 224.3 484.7 222.9 485.1 224.2 485.5 221.9 485.9 217.9 486.2 225.9 486.6 222.7 487.0 225.7 487.4 218.5 487.8 225.6 488.2 221.4 488.6 230.1 489.0 222.8 489.4 219.7 489.8 218.8 490.2 228.5 490.6 218.8 490.9 222.0 491.3 223.0 491.7 217.5 492.1 222.2 492.5 227.6 492.9 223.4 493.3 221.6 493.7 223.1 494.1 227.0 494.5 225.4 494.9 229.5 495.2 226.3 495.6 226.2 496.0 224.2 496.4 223.6 496.8 226.7 497.2 220.5 497.6 221.9 498.0 219.6 498.4 225.7 498.8 221.5 499.2 227.6 499.6 221.1 499.9 222.8 500.3 223.1 500.7 222.6 501.1 219.0 501.5 221.5 501.9 224.4 502.3 219.4 502.7 227.5 503.1 220.6 503.5 221.3 503.9 225.9 504.3 217.9 504.6 228.2 505.0 227.6 505.4 225.6 505.8 223.6 506.2 220.1 506.6 225.0 507.0 222.9 507.4 217.6 507.8 216.1 508.2 221.5 508.6 223.9 508.9 222.5 509.3 219.6 509.7 217.1 510.1 215.9 510.5 228.3 510.9 234.9 511.3 238.8 511.7 239.5 512.1 245.3 512.5 254.7 512.9 260.0 513.3 259.3 513.6 264.9 514.0 262.6 514.4 269.6 514.8 272.3 515.2 269.2 515.6 274.4 516.0 277.0 516.4 268.9 516.8 274.4 517.2 279.4 517.6 273.2 518.0 286.0 518.3 283.6 518.7 281.1 519.1 280.9 519.5 286.2 519.9 293.7 520.3 291.6 520.7 296.7 521.1 298.1 521.5 289.9 521.9 299.4 522.3 299.5 522.6 300.9 523.0 296.0 523.4 298.5 523.8 302.7 524.2 301.6 524.6 296.3 525.0 305.4 525.4 309.2 525.8 300.2 526.2 309.8 526.6 304.9 527.0 308.0 527.3 313.6 527.7 304.6 528.1 304.3 528.5 311.4 528.9 314.8 529.3 305.2 529.7 315.6 530.1 313.1 530.5 313.5 530.9 316.3 531.3 317.0 531.6 308.3 532.0 317.7 532.4 312.3 532.8 315.6 533.2 323.2 533.6 320.0 534.0 315.2 534.4 314.9 534.8 321.5 535.2 321.8 535.6 315.2 536.0 316.4 536.3 319.3 536.7 313.6 537.1 321.8 537.5 321.1 537.9 315.2 538.3 317.6 538.7 316.4 539.1 314.1 539.5 310.6 539.9 310.3 540.3 313.6 540.7 316.7 541.0 314.3 541.4 318.5 541.8 317.8 542.2 318.3 542.6 312.7 543.0 310.1 543.4 311.8 543.8 313.6 544.2 285.1 544.6 267.5 545.0 262.3 545.3 264.8 545.7 267.6 546.1 268.4 546.5 270.7 546.9 266.2 547.3 266.8 547.7 266.6 548.1 263.2 548.5 260.3 548.9 260.5 549.3 265.3 549.7 266.0 550.0 268.7 550.4 265.2 550.8 269.3 551.2 269.6 551.6 264.9 552.0 267.2 552.4 262.3 552.8 264.2 553.2 265.3 553.6 259.5 554.0 269.0 554.4 267.6 554.7 263.9 555.1 259.5 555.5 268.8 555.9 261.3 556.3 260.2 556.7 271.9 557.1 263.4 557.5 264.1 557.9 266.8 558.3 264.8 558.7 261.4 559.0 266.8 559.4 266.0 559.8 264.7 560.2 273.3 560.6 260.7 561.0 270.5 561.4 259.7 561.8 259.5 562.2 262.6 562.6 260.7 563.0 262.9 563.4 266.5 563.7 263.6 564.1 263.5 564.5 270.3 564.9 260.8 565.3 267.0 565.7 265.6 566.1 270.2 566.5 268.7 566.9 262.8 567.3 260.9 567.7 270.2 568.1 262.9 568.4 260.6 568.8 260.3 569.2 261.8 569.6 269.4 570.0 252.8 570.4 243.3 570.8 223.1 571.2 221.7 571.6 223.9 572.0 218.2 572.4 221.0 572.7 228.1 573.1 227.4 573.5 228.9 573.9 222.6 574.3 230.9 574.7 225.0 575.1 221.2 575.5 224.9 575.9 226.5 576.3 227.8 576.7 230.1 577.1 222.9 577.4 226.9 577.8 217.8 578.2 230.2 578.6 225.5 579.0 228.6 579.4 221.0 579.8 220.8 580.2 227.3 580.6 228.5 581.0 230.4 581.4 220.6 581.8 220.7 582.1 223.2 582.5 226.9 582.9 223.6 583.3 222.2 583.7 228.3 584.1 222.6 584.5 222.5 584.9 221.1 585.3 226.5 585.7 227.1 586.1 218.9 586.4 218.6 586.8 221.9 587.2 221.2 587.6 225.6 588.0 219.6 588.4 222.5 588.8 224.0 589.2 221.4 589.6 230.0 590.0 223.6 590.4 221.4 590.8 224.0 591.1 222.5 591.5 222.2 591.9 221.3 592.3 226.7 592.7 220.9 593.1 223.4 593.5 229.6 593.9 230.2 594.3 223.1 594.7 228.4 595.1 221.9 595.5 225.7 595.8 224.1 596.2 219.2 596.6 230.5 597.0 224.5 597.4 225.7 597.8 228.2 598.2 224.4 598.6 220.2 599.0 226.8 599.4 223.8 599.8 230.1 600.1 224.4 600.5 223.2 600.9 229.6 601.3 221.7 601.7 225.2 602.1 225.6 602.5 227.7 602.9 219.3 603.3 220.0 603.7 222.6 604.1 226.9 604.5 221.2 604.8 228.2 605.2 219.0 605.6 230.9 606.0 228.5 606.4 225.3 606.8 224.2 607.2 229.0 607.6 227.3 608.0 218.7 608.4 221.6 608.8 228.6 609.1 220.5 609.5 224.2 609.9 219.7 610.3 226.4 610.7 226.8 611.1 222.3 611.5 224.2 611.9 227.0 612.3 224.2 612.7 224.8 613.1 225.3 613.5 221.1 613.8 221.6 614.2 222.1 614.6 221.4 615.0 228.3 615.4 221.3 615.8 226.8 616.2 226.7 616.6 223.0 617.0 227.4 617.4 229.8 617.8 221.8 618.2 217.5 618.5 228.5 618.9 224.1 619.3 228.9 619.7 224.3 620.1 222.3 620.5 223.0 620.9 230.7 621.3 221.0 621.7 223.9 622.1 222.5 622.5 222.0 622.8 218.4 623.2 223.9 623.6 218.5 624.0 229.4 624.4 223.9 624.8 227.9 625.2 226.9 625.6 218.8 626.0 220.1 626.4 223.6 626.8 225.1 627.2 226.8 627.5 218.6 627.9 224.5 628.3 227.1 628.7 221.7 629.1 223.5 629.5 224.9 629.9 218.8 630.3 221.3 630.7 228.8 631.1 218.5 631.5 224.1 631.9 226.5 632.2 219.3 632.6 223.6 633.0 220.5 633.4 218.7 633.8 225.6 634.2 215.1 634.6 219.6 635.0 226.8 635.4 220.4 635.8 226.8 636.2 217.2 636.5 219.4 636.9 221.8 637.3 218.8 637.7 220.2 638.1 219.3 638.5 225.6 638.9 224.8 639.3 217.9 639.7 217.5 640.1 224.5 640.5 223.2 640.9 223.8 641.2 230.1 641.6 229.3 642.0 242.6 642.4 246.1 642.8 257.6 643.2 270.3 643.6 278.5 644.0 283.9 644.4 282.3 644.8 290.1 645.2 287.7 645.6 297.3 645.9 303.2 646.3 310.6 646.7 321.0 647.1 321.7 647.5 324.2 647.9 321.0 648.3 322.6 648.7 329.6 649.1 323.0 649.5 330.6 649.9 327.1 650.2 321.8 650.6 325.5 651.0 322.5 651.4 321.3 651.8 332.0 652.2 325.4 652.6 331.7 653.0 335.8 653.4 335.5 653.8 335.9 654.2 331.6 654.6 332.2 654.9 329.0 655.3 335.0 655.7 328.9 656.1 336.9 656.5 334.6 656.9 328.4 657.3 330.0 657.7 322.5 658.1 329.0 658.5 326.6 658.9 320.0 659.3 318.9 659.6 326.9 660.0 321.4 660.4 318.7 660.8 320.4 661.2 317.7 661.6 310.5 662.0 309.1 662.4 315.9 662.8 317.4 663.2 315.2 663.6 312.3 663.9 319.2 664.3 309.8 664.7 320.3 665.1 315.8 665.5 316.1 665.9 310.7 666.3 315.4 666.7 314.0 667.1 317.2 667.5 318.7 667.9 318.7 668.3 317.6 668.6 316.7 669.0 316.6 669.4 319.2 669.8 321.7 670.2 320.2 670.6 319.5 671.0 325.9 671.4 323.9 671.8 320.8 672.2 319.3 672.6 323.4 673.0 319.7 673.3 323.5 673.7 325.4 674.1 326.1 674.5 319.7 674.9 315.8 675.3 317.7 675.7 323.3 676.1 316.4 676.5 317.6 676.9 311.4 677.3 320.8 677.6 311.2 678.0 314.5 678.4 306.7 678.8 309.1 679.2 315.9 679.6 306.1 680.0 307.5 680.4 310.6 680.8 310.6 681.2 303.8 681.6 302.6 682.0 302.5 682.3 308.3" fill="none" stroke="#c4c41c" stroke-width="1.15" stroke-linejoin="bevel"/>
</g>
<g id="mainaxes" fill="none" stroke="#333" stroke-width="1">
 <rect x="415.4" y="183.2" width="267" height="205.2"/>
</g>
<g fill="#222" font-size="7.5">
<text x="412" y="185.9" text-anchor="end">10</text>
<text x="412" y="220.1" text-anchor="end">5</text>
<text x="412" y="254.3" text-anchor="end">0</text>
<text x="412" y="288.5" text-anchor="end">−5</text>
<text x="412" y="322.7" text-anchor="end">−10</text>
<text x="412" y="356.9" text-anchor="end">−15</text>
<text x="412" y="391.1" text-anchor="end">−20</text>
<text x="436.6" y="398" text-anchor="middle">2000</text>
<text x="492.6" y="398" text-anchor="middle">2200</text>
<text x="548.5" y="398" text-anchor="middle">2400</text>
<text x="604.4" y="398" text-anchor="middle">2600</text>
<text x="660.3" y="398" text-anchor="middle">2800</text>
</g>
<path d="M415.4 217.4 h3 M682.4 217.4 h-3 M415.4 251.6 h3 M682.4 251.6 h-3 M415.4 285.8 h3 M682.4 285.8 h-3 M415.4 320.0 h3 M682.4 320.0 h-3 M415.4 354.2 h3 M682.4 354.2 h-3 M436.6 388.4 v-3 M436.6 183.2 v3 M492.6 388.4 v-3 M492.6 183.2 v3 M548.5 388.4 v-3 M548.5 183.2 v3 M604.4 388.4 v-3 M604.4 183.2 v3 M660.3 388.4 v-3 M660.3 183.2 v3" stroke="#333" stroke-width="0.8" fill="none"/>
<text x="548.5" y="180" font-size="11.9" fill="#222" text-anchor="middle">Curve of decentralized x(t)</text>
<text x="548" y="409" font-size="8.5" fill="#222" text-anchor="middle">time</text>
<text x="0" y="0" font-size="8.2" fill="#222" text-anchor="middle" transform="translate(393.5 286) rotate(-90)">Voltage/V</text>
<rect x="418.8" y="356.5" width="147.7" height="27.5" fill="#fff" stroke="#333" stroke-width="0.8"/>
<line x1="424" y1="364.0" x2="438" y2="364.0" stroke="#1f1fd0" stroke-width="1.4" stroke-opacity="0.6"/>
<text x="446" y="366.8" font-size="7.5" fill="#222">1A</text>
<line x1="424" y1="376.3" x2="438" y2="376.3" stroke="#138a13" stroke-width="1.4" stroke-opacity="0.6"/>
<text x="446" y="379.1" font-size="7.5" fill="#222">1B</text>
<line x1="477" y1="364.0" x2="491" y2="364.0" stroke="#e01b1b" stroke-width="1.4" stroke-opacity="0.6"/>
<text x="499" y="366.8" font-size="7.5" fill="#222">1C</text>
<line x1="477" y1="376.3" x2="491" y2="376.3" stroke="#1ec8c8" stroke-width="1.4" stroke-opacity="0.6"/>
<text x="499" y="379.1" font-size="7.5" fill="#222">2A</text>
<line x1="530" y1="364.0" x2="544" y2="364.0" stroke="#c030d0" stroke-width="1.4" stroke-opacity="0.6"/>
<text x="552" y="366.8" font-size="7.5" fill="#222">2B</text>
<line x1="530" y1="376.3" x2="544" y2="376.3" stroke="#c8c820" stroke-width="1.4" stroke-opacity="0.6"/>
<text x="552" y="379.1" font-size="7.5" fill="#222">2C</text>
<path d="M778.3 170.9 L778.6 169.4 779.0 171.0 779.3 170.4 779.7 170.3 780.0 170.8 780.4 170.0 780.7 171.2 781.0 171.0 781.4 172.0 781.7 169.0 782.1 171.1 782.4 171.3 782.7 170.2 783.1 171.8 783.4 171.4 783.8 172.1 784.1 171.4 784.5 171.8 784.8 170.9 785.1 171.5 785.5 171.9 785.8 171.7 786.2 171.5 786.5 171.9 786.9 170.6 787.2 170.8 787.5 171.3 787.9 172.5 788.2 170.9 788.6 172.6 788.9 171.2 789.2 171.4 789.6 171.9 789.9 172.2 790.3 172.0 790.6 169.6 791.0 171.6 791.3 171.6 791.6 170.5 792.0 171.0 792.3 170.5 792.7 172.5 793.0 172.4 793.4 168.4 793.7 171.4 794.0 171.7 794.4 171.3 794.7 170.5 795.1 172.5 795.4 171.2 795.7 171.4 796.1 170.8 796.4 171.3 796.8 171.9 797.1 172.2 797.5 173.6 797.8 170.5 798.1 172.7 798.5 171.8 798.8 169.9 799.2 171.8 799.5 170.9 799.9 171.6 800.2 170.8 800.5 171.4 800.9 171.9 801.2 170.2 801.6 171.7 801.9 172.6 802.2 171.7 802.6 170.9 802.9 172.4 803.3 170.7 803.6 170.7 804.0 169.5 804.3 172.0 804.6 170.8 805.0 172.9 805.3 171.8 805.7 171.3 806.0 171.0 806.4 171.5 806.7 171.5 807.0 172.0 807.4 171.8 807.7 171.1 808.1 170.9 808.4 170.8 808.7 170.5 809.1 170.3 809.4 173.0 809.8 171.9 810.1 171.6 810.5 172.0 810.8 170.5 811.1 170.7 811.5 171.5 811.8 171.3 812.2 170.3 812.5 171.7 812.9 171.7 813.2 170.6 813.5 171.0 813.9 170.1 814.2 171.1 814.6 170.7 814.9 171.9 815.2 172.3 815.6 171.4 815.9 173.8 816.3 171.0 816.6 170.5 817.0 171.3 817.3 171.6 817.6 170.4 818.0 171.4 818.3 170.5 818.7 169.5 819.0 170.8 819.3 170.6 819.7 171.0 820.0 171.2 820.4 171.2 820.7 171.4 821.1 170.4 821.4 172.8 821.7 171.6 822.1 170.8 822.4 172.2 822.8 171.5 823.1 172.0 823.5 171.0 823.8 170.6 824.1 170.1 824.5 171.0 824.8 172.1 825.2 171.2 825.5 170.9 825.8 170.2 826.2 173.3 826.5 171.1 826.9 173.0 827.2 170.8 827.6 171.0 827.9 171.0 828.2 170.6 828.6 171.1 828.9 172.0 829.3 171.1 829.6 170.3 830.0 171.5 830.3 171.4 830.6 172.5 831.0 170.4 831.3 171.9 831.7 172.1 832.0 171.8 832.3 172.2 832.7 171.6 833.0 170.3 833.4 170.7 833.7 170.1 834.1 170.1 834.4 172.2 834.7 171.0 835.1 170.5 835.4 170.2 835.8 173.9 836.1 174.3 836.5 173.1 836.8 174.2 837.1 175.2 837.5 175.0 837.8 177.7 838.2 180.7 838.5 180.3 838.8 181.9 839.2 183.1 839.5 184.4 839.9 186.8 840.2 188.2 840.6 189.7 840.9 191.7 841.2 191.7 841.6 191.5 841.9 192.9 842.3 192.7 842.6 195.8 843.0 198.3 843.3 197.1 843.6 197.2 844.0 199.5 844.3 200.2 844.7 198.9 845.0 198.7 845.3 200.7 845.7 200.3 846.0 201.0 846.4 201.6 846.7 202.1 847.1 200.8 847.4 201.2 847.7 201.5 848.1 203.2 848.4 199.4 848.8 201.7 849.1 201.0 849.5 201.9 849.8 200.6 850.1 202.2 850.5 201.1 850.8 201.5 851.2 200.8 851.5 202.8 851.8 202.7 852.2 202.5 852.5 200.7 852.9 204.1 853.2 202.7 853.6 203.8 853.9 203.1 854.2 202.9 854.6 203.4 854.9 203.4 855.3 203.5 855.6 204.4 856.0 204.2 856.3 203.6 856.6 198.7 857.0 195.4 857.3 194.8 857.7 193.7 858.0 193.9 858.3 193.7 858.7 193.0 859.0 195.9 859.4 193.2 859.7 193.5 860.1 193.4 860.4 194.3 860.7 190.2 861.1 187.2 861.4 186.0 861.8 187.0 862.1 186.3 862.5 186.0 862.8 185.1 863.1 185.6 863.5 186.5 863.8 186.5 864.2 186.4 864.5 186.3 864.8 186.9 865.2 185.7 865.5 187.0 865.9 187.0 866.2 185.9 866.6 186.7 866.9 186.4 867.2 188.0 867.6 185.4 867.9 186.0 868.3 186.1 868.6 185.5 869.0 185.7 869.3 186.5 869.6 184.0 870.0 186.1 870.3 184.8 870.7 184.0 871.0 186.1 871.3 185.5 871.7 186.2 872.0 184.5 872.4 185.7 872.7 184.8 873.1 181.1 873.4 179.9 873.7 180.0 874.1 176.6 874.4 177.5 874.8 175.2 875.1 176.1 875.5 178.1 875.8 177.9 876.1 178.4 876.5 177.5 876.8 177.6 877.2 177.0 877.5 177.6 877.8 178.9 878.2 178.4 878.5 176.4 878.9 176.6 879.2 177.8 879.6 177.8 879.9 177.8 880.2 176.4 880.6 175.4 880.9 170.6 881.3 172.0 881.6 171.3 882.0 173.7 882.3 171.2 882.6 170.2 883.0 173.4 883.3 170.1 883.7 171.0 884.0 172.1 884.3 172.8 884.7 170.4 885.0 171.2 885.4 170.9 885.7 171.7 886.1 172.1 886.4 170.7 886.7 172.3 887.1 170.6 887.4 172.9 887.8 172.3 888.1 172.7 888.5 170.3 888.8 173.0 889.1 172.4 889.5 170.8 889.8 171.2 890.2 169.5 890.5 169.8 890.8 170.9 891.2 170.8 891.5 173.1 891.9 172.2 892.2 171.7 892.6 171.6 892.9 172.7 893.2 172.3 893.6 172.2 893.9 170.5 894.3 171.1 894.6 171.7 895.0 171.7 895.3 171.2 895.6 172.1 896.0 171.7 896.3 173.0 896.7 170.8 897.0 170.6 897.3 171.1 897.7 171.0 898.0 171.1 898.4 169.6 898.7 171.3 899.1 172.6 899.4 172.4 899.7 170.8 900.1 170.5 900.4 170.7 900.8 170.7 901.1 171.3 901.4 172.8 901.8 172.1 902.1 173.1 902.5 171.8 902.8 172.7 903.2 171.4 903.5 171.6 903.8 173.2 904.2 170.8 904.5 170.8 904.9 172.7 905.2 171.3 905.6 170.8 905.9 171.7 906.2 170.7 906.6 171.3 906.9 170.5 907.3 171.3 907.6 171.6 907.9 171.0 908.3 170.7 908.6 171.2 909.0 171.8 909.3 172.2 909.7 171.8 910.0 172.0 910.3 171.3 910.7 171.3 911.0 171.5 911.4 171.4 911.7 171.3 912.1 170.0 912.4 170.4 912.7 172.0 913.1 171.1 913.4 171.7 913.8 171.5 914.1 171.7 914.4 172.0 914.8 172.7 915.1 173.7 915.5 171.3 915.8 170.4 916.2 172.3 916.5 171.0 916.8 171.8 917.2 171.2 917.5 172.2 917.9 172.0 918.2 172.5 918.6 175.1 918.9 173.4 919.2 174.4 919.6 177.6 919.9 176.5 920.3 178.7 920.6 180.2 920.9 181.7 921.3 184.0 921.6 186.3 922.0 187.4 922.3 188.1 922.7 186.5 923.0 187.6 923.3 190.5 923.7 191.2 924.0 191.3 924.4 191.9 924.7 193.8 925.1 194.9 925.4 193.0 925.7 194.3 926.1 197.1 926.4 197.7 926.8 197.3 927.1 196.9 927.4 197.0 927.8 198.3 928.1 199.9 928.5 198.7 928.8 198.9 929.2 199.6 929.5 200.2 929.8 199.3 930.2 200.1 930.5 201.2 930.9 200.2 931.2 201.7 931.6 199.8 931.9 200.4 932.2 201.9 932.6 200.9 932.9 200.1 933.3 203.4 933.6 201.7 933.9 200.2 934.3 203.3 934.6 202.2 935.0 203.5 935.3 202.4 935.7 204.7 936.0 204.0 936.3 203.0 936.7 202.4 937.0 202.2 937.4 202.1 937.7 201.5 938.1 201.9 938.4 201.8 938.7 203.4 939.1 202.6 939.4 196.5 939.8 194.2 940.1 193.5 940.4 192.5 940.8 191.3 941.1 191.5 941.5 188.3 941.8 189.4 942.2 188.1 942.5 185.0 942.8 188.8 943.2 186.6 943.5 188.5 943.9 187.4 944.2 186.9 944.6 187.1 944.9 186.6 945.2 187.4 945.6 186.8 945.9 187.7 946.3 187.0 946.6 187.8 946.9 185.9 947.3 187.7 947.6 185.8 948.0 186.8 948.3 186.7 948.7 185.3 949.0 186.2 949.3 188.0 949.7 185.8 950.0 188.9 950.4 185.9 950.7 186.5 951.1 187.4 951.4 186.0 951.7 186.3 952.1 184.2 952.4 186.4 952.8 184.2 953.1 184.6 953.4 186.4 953.8 186.6 954.1 184.6 954.5 185.9 954.8 185.6 955.2 185.9 955.5 186.8 955.8 186.0 956.2 186.5 956.5 187.0 956.9 185.8 957.2 183.9 957.6 184.0 957.9 185.5 958.2 183.8 958.6 181.9 958.9 179.5 959.3 178.9 959.6 178.1 959.9 178.0 960.3 176.6 960.6 175.3 961.0 178.3 961.3 179.6 961.7 176.9 962.0 177.7 962.3 177.5 962.7 176.5 963.0 177.6 963.4 176.4 963.7 174.5 964.1 171.5 964.4 172.5 964.7 171.2 965.1 172.6 965.4 171.8 965.8 172.8 966.1 171.8 966.4 171.9 966.8 170.9 967.1 170.2 967.5 171.6 967.8 172.3 968.2 169.6 968.5 171.1 968.8 170.9 969.2 170.9 969.5 170.1 969.9 170.5 970.2 170.8 970.6 170.7 970.9 172.3 971.2 172.0 971.6 171.6 971.9 171.4 972.3 171.4 972.6 171.2 972.9 171.4 973.3 171.9 973.6 173.0 974.0 170.7 974.3 170.9 974.7 172.3 975.0 171.0 975.3 171.1 975.7 171.4 976.0 173.2 976.4 172.6 976.7 172.0 977.1 170.0 977.4 172.3 977.7 171.8 978.1 172.5 978.4 171.9 978.8 171.1 979.1 173.4 979.4 174.1 979.8 170.8 980.1 171.4 980.5 172.0 980.8 170.6 981.2 170.6 981.5 173.4 981.8 171.6 982.2 170.4 982.5 172.1 982.9 171.8 983.2 170.6 983.5 171.7 983.9 172.6 984.2 172.1 984.6 172.7 984.9 170.9 985.3 173.1 985.6 170.5 985.9 173.0 986.3 171.4 986.6 172.8 987.0 171.8 987.3 170.5 987.7 170.4 988.0 170.2 988.3 171.5 988.7 171.4 989.0 171.2 989.4 170.9 989.7 171.8 990.0 170.4 990.4 171.2 990.7 170.4 991.1 171.0 991.4 170.8 991.8 172.1 992.1 171.8 992.4 172.7 992.8 171.7 993.1 171.6 993.5 170.7 993.8 172.6 994.2 168.4 994.5 171.6 994.8 170.3 995.2 170.5 995.5 173.8 995.9 171.7 996.2 170.1 996.5 173.7 996.9 170.7 997.2 172.3 997.6 171.9 997.9 171.3 998.3 173.2 998.6 171.3 998.9 172.1 999.3 172.8 999.6 172.0 1000.0 170.1 1000.3 173.6 1000.7 174.1 1001.0 175.9 1001.3 177.7 1001.7 178.0 1002.0 178.1 1002.4 180.6 1002.7 181.2 1003.0 183.5 1003.4 182.2 1003.7 187.3 1004.1 186.4 1004.4 187.3 1004.8 188.3 1005.1 190.4 1005.4 191.1 1005.8 191.1 1006.1 191.5 1006.5 193.5 1006.8 194.2 1007.2 193.4 1007.5 193.8 1007.8 195.7 1008.2 196.3 1008.5 196.8 1008.9 194.3 1009.2 196.6 1009.5 197.6 1009.9 197.1 1010.2 196.3 1010.6 197.8 1010.9 200.7 1011.3 199.6 1011.6 200.1 1011.9 200.2 1012.3 201.2 1012.6 200.5 1013.0 201.3 1013.3 200.2 1013.7 200.6 1014.0 202.1 1014.3 202.6 1014.7 201.6 1015.0 200.7 1015.4 201.0 1015.7 201.6 1016.0 204.8 1016.4 202.4 1016.7 202.7 1017.1 202.5 1017.4 203.5 1017.8 202.9 1018.1 203.3 1018.4 200.3 1018.8 202.3 1019.1 203.3 1019.5 203.3 1019.8 203.6 1020.2 203.4 1020.5 204.1 1020.8 203.9 1021.2 203.1 1021.5 201.4 1021.9 200.1 1022.2 197.2 1022.5 196.4 1022.9 195.7 1023.2 195.5 1023.6 193.5 1023.9 192.0 1024.3 190.7 1024.6 189.1" fill="none" stroke="#1a1a8a" stroke-width="1.1" stroke-linejoin="bevel"/>
<path d="M778.3 288.7 L778.6 288.9 779.0 287.4 779.3 287.0 779.7 288.6 780.0 287.8 780.4 286.9 780.7 287.9 781.0 288.2 781.4 290.1 781.7 286.9 782.1 287.6 782.4 288.1 782.7 288.6 783.1 289.4 783.4 288.3 783.8 288.3 784.1 287.2 784.5 289.3 784.8 286.9 785.1 288.2 785.5 287.1 785.8 289.1 786.2 287.9 786.5 287.1 786.9 288.1 787.2 289.6 787.5 288.6 787.9 287.8 788.2 289.6 788.6 289.6 788.9 288.0 789.2 289.2 789.6 287.6 789.9 289.4 790.3 290.0 790.6 289.0 791.0 286.9 791.3 289.1 791.6 288.3 792.0 288.1 792.3 289.2 792.7 287.3 793.0 288.2 793.4 287.9 793.7 289.9 794.0 290.0 794.4 290.9 794.7 288.5 795.1 288.6 795.4 287.7 795.7 287.0 796.1 288.6 796.4 288.6 796.8 287.9 797.1 286.9 797.5 289.1 797.8 287.8 798.1 288.6 798.5 288.7 798.8 287.6 799.2 289.1 799.5 289.4 799.9 287.8 800.2 288.4 800.5 288.7 800.9 288.5 801.2 288.0 801.6 288.8 801.9 287.7 802.2 288.1 802.6 287.1 802.9 287.3 803.3 287.7 803.6 288.6 804.0 288.4 804.3 289.0 804.6 285.8 805.0 288.7 805.3 288.0 805.7 287.2 806.0 289.8 806.4 289.3 806.7 288.9 807.0 289.4 807.4 289.7 807.7 289.0 808.1 287.3 808.4 287.8 808.7 288.5 809.1 288.5 809.4 290.1 809.8 287.9 810.1 288.1 810.5 289.6 810.8 288.4 811.1 288.7 811.5 289.0 811.8 289.5 812.2 289.2 812.5 289.5 812.9 288.2 813.2 288.2 813.5 288.3 813.9 288.8 814.2 289.0 814.6 286.7 814.9 290.3 815.2 287.5 815.6 288.3 815.9 288.6 816.3 289.1 816.6 288.8 817.0 289.7 817.3 289.9 817.6 288.7 818.0 290.2 818.3 287.9 818.7 287.6 819.0 291.9 819.3 290.1 819.7 288.4 820.0 288.5 820.4 288.6 820.7 288.3 821.1 288.0 821.4 287.9 821.7 287.0 822.1 288.7 822.4 287.9 822.8 290.2 823.1 288.8 823.5 289.9 823.8 287.4 824.1 286.6 824.5 288.2 824.8 289.9 825.2 288.8 825.5 288.7 825.8 288.6 826.2 287.7 826.5 287.9 826.9 291.2 827.2 287.5 827.6 289.2 827.9 289.3 828.2 287.5 828.6 289.0 828.9 290.1 829.3 290.0 829.6 288.7 830.0 288.0 830.3 287.4 830.6 289.0 831.0 289.3 831.3 287.3 831.7 289.3 832.0 287.5 832.3 288.6 832.7 288.6 833.0 289.1 833.4 288.6 833.7 289.3 834.1 289.5 834.4 289.0 834.7 289.5 835.1 288.6 835.4 288.8 835.8 290.3 836.1 292.6 836.5 294.9 836.8 295.4 837.1 299.4 837.5 304.2 837.8 310.1 838.2 315.4 838.5 316.3 838.8 316.4 839.2 316.6 839.5 316.3 839.9 316.2 840.2 316.2 840.6 318.3 840.9 317.9 841.2 319.4 841.6 316.3 841.9 316.1 842.3 316.1 842.6 317.3 843.0 316.4 843.3 317.6 843.6 317.9 844.0 319.3 844.3 318.8 844.7 318.8 845.0 317.5 845.3 317.0 845.7 319.1 846.0 318.5 846.4 318.7 846.7 319.9 847.1 321.2 847.4 320.8 847.7 321.9 848.1 321.3 848.4 321.6 848.8 322.1 849.1 322.6 849.5 322.4 849.8 324.2 850.1 323.0 850.5 326.0 850.8 325.0 851.2 325.3 851.5 327.0 851.8 328.4 852.2 326.9 852.5 328.8 852.9 327.4 853.2 326.8 853.6 326.9 853.9 326.3 854.2 324.7 854.6 324.4 854.9 324.4 855.3 322.1 855.6 320.5 856.0 319.6 856.3 318.7 856.6 318.4 857.0 317.7 857.3 317.8 857.7 317.7 858.0 314.7 858.3 315.7 858.7 314.3 859.0 315.0 859.4 312.5 859.7 312.5 860.1 308.0 860.4 310.8 860.7 310.6 861.1 308.8 861.4 308.5 861.8 311.4 862.1 309.1 862.5 308.4 862.8 310.2 863.1 308.4 863.5 309.4 863.8 309.7 864.2 309.0 864.5 309.0 864.8 309.8 865.2 306.3 865.5 308.7 865.9 307.7 866.2 305.0 866.6 304.6 866.9 302.1 867.2 302.3 867.6 301.8 867.9 302.0 868.3 301.9 868.6 302.3 869.0 302.2 869.3 300.5 869.6 302.7 870.0 302.6 870.3 302.4 870.7 301.6 871.0 301.7 871.3 301.2 871.7 303.3 872.0 301.8 872.4 302.2 872.7 300.5 873.1 298.2 873.4 298.3 873.7 294.4 874.1 292.6 874.4 293.6 874.8 291.9 875.1 289.9 875.5 291.3 875.8 289.9 876.1 290.2 876.5 290.3 876.8 289.9 877.2 288.9 877.5 286.9 877.8 287.4 878.2 288.8 878.5 287.2 878.9 288.3 879.2 288.8 879.6 287.8 879.9 289.0 880.2 289.6 880.6 287.0 880.9 289.9 881.3 287.7 881.6 289.6 882.0 288.2 882.3 288.4 882.6 288.6 883.0 290.2 883.3 288.3 883.7 288.3 884.0 289.1 884.3 288.3 884.7 287.3 885.0 288.9 885.4 288.0 885.7 289.3 886.1 287.9 886.4 287.7 886.7 286.0 887.1 287.5 887.4 287.9 887.8 287.0 888.1 289.2 888.5 287.3 888.8 288.8 889.1 288.9 889.5 287.3 889.8 288.1 890.2 287.1 890.5 289.7 890.8 288.1 891.2 288.9 891.5 288.6 891.9 290.1 892.2 287.5 892.6 288.2 892.9 289.3 893.2 289.6 893.6 289.2 893.9 287.1 894.3 288.5 894.6 288.7 895.0 288.0 895.3 288.4 895.6 288.2 896.0 287.8 896.3 288.2 896.7 287.7 897.0 289.6 897.3 288.4 897.7 288.8 898.0 288.4 898.4 288.5 898.7 289.1 899.1 288.8 899.4 287.7 899.7 289.0 900.1 289.7 900.4 288.0 900.8 287.7 901.1 288.8 901.4 288.4 901.8 289.3 902.1 288.8 902.5 287.6 902.8 287.8 903.2 288.4 903.5 288.8 903.8 290.1 904.2 288.3 904.5 288.2 904.9 287.7 905.2 286.8 905.6 288.3 905.9 287.8 906.2 289.7 906.6 287.5 906.9 287.9 907.3 287.4 907.6 288.1 907.9 288.3 908.3 287.3 908.6 289.3 909.0 288.1 909.3 287.7 909.7 289.4 910.0 289.8 910.3 288.3 910.7 288.6 911.0 288.2 911.4 288.1 911.7 289.4 912.1 288.4 912.4 287.7 912.7 289.1 913.1 289.0 913.4 289.8 913.8 288.0 914.1 287.0 914.4 290.0 914.8 288.1 915.1 288.0 915.5 289.3 915.8 289.2 916.2 289.8 916.5 289.5 916.8 288.7 917.2 288.2 917.5 288.7 917.9 289.2 918.2 292.2 918.6 295.7 918.9 295.7 919.2 298.2 919.6 304.2 919.9 308.2 920.3 315.6 920.6 316.0 920.9 314.4 921.3 318.5 921.6 317.8 922.0 315.7 922.3 316.7 922.7 317.4 923.0 315.3 923.3 316.3 923.7 317.9 924.0 317.5 924.4 316.2 924.7 315.4 925.1 318.9 925.4 316.9 925.7 317.6 926.1 318.9 926.4 317.5 926.8 318.9 927.1 318.0 927.4 316.4 927.8 317.7 928.1 317.8 928.5 318.2 928.8 318.8 929.2 318.5 929.5 320.8 929.8 320.4 930.2 319.6 930.5 321.3 930.9 321.4 931.2 320.2 931.6 320.2 931.9 322.4 932.2 322.9 932.6 322.3 932.9 323.2 933.3 324.7 933.6 324.1 933.9 324.8 934.3 324.6 934.6 321.4 935.0 322.2 935.3 322.1 935.7 321.3 936.0 318.9 936.3 320.0 936.7 321.0 937.0 319.4 937.4 319.0 937.7 318.8 938.1 317.3 938.4 316.5 938.7 316.0 939.1 315.6 939.4 313.7 939.8 315.1 940.1 312.1 940.4 312.1 940.8 311.1 941.1 313.4 941.5 309.6 941.8 312.7 942.2 311.8 942.5 310.4 942.8 311.4 943.2 311.2 943.5 312.7 943.9 311.0 944.2 310.4 944.6 309.9 944.9 310.7 945.2 310.1 945.6 309.8 945.9 310.8 946.3 310.8 946.6 308.2 946.9 310.7 947.3 308.7 947.6 309.7 948.0 306.6 948.3 306.6 948.7 303.7 949.0 302.0 949.3 300.7 949.7 300.2 950.0 301.2 950.4 300.5 950.7 300.8 951.1 299.8 951.4 300.5 951.7 301.7 952.1 300.8 952.4 300.5 952.8 301.3 953.1 299.2 953.4 300.1 953.8 299.7 954.1 301.2 954.5 300.8 954.8 299.5 955.2 301.8 955.5 300.1 955.8 300.4 956.2 300.9 956.5 298.8 956.9 298.3 957.2 295.6 957.6 295.4 957.9 293.9 958.2 291.0 958.6 292.4 958.9 293.2 959.3 289.9 959.6 291.1 959.9 293.1 960.3 289.5 960.6 288.1 961.0 288.2 961.3 286.5 961.7 288.2 962.0 287.5 962.3 289.0 962.7 287.9 963.0 286.7 963.4 287.6 963.7 287.9 964.1 289.9 964.4 288.4 964.7 289.3 965.1 287.4 965.4 288.8 965.8 287.8 966.1 289.1 966.4 286.4 966.8 289.2 967.1 288.0 967.5 285.8 967.8 288.0 968.2 289.0 968.5 287.6 968.8 287.3 969.2 287.4 969.5 290.0 969.9 288.0 970.2 290.2 970.6 286.5 970.9 288.2 971.2 288.7 971.6 287.6 971.9 287.8 972.3 289.4 972.6 286.8 972.9 288.5 973.3 289.9 973.6 287.0 974.0 286.9 974.3 287.2 974.7 287.8 975.0 289.1 975.3 287.5 975.7 286.6 976.0 287.6 976.4 286.9 976.7 289.1 977.1 287.4 977.4 287.5 977.7 289.7 978.1 289.9 978.4 289.1 978.8 288.3 979.1 288.0 979.4 288.6 979.8 288.5 980.1 288.5 980.5 288.4 980.8 287.9 981.2 288.0 981.5 288.5 981.8 288.2 982.2 288.9 982.5 287.7 982.9 288.9 983.2 287.0 983.5 288.5 983.9 288.2 984.2 289.2 984.6 288.8 984.9 288.4 985.3 288.5 985.6 289.1 985.9 289.6 986.3 288.5 986.6 288.4 987.0 288.1 987.3 287.4 987.7 288.9 988.0 290.4 988.3 288.7 988.7 290.3 989.0 289.8 989.4 287.7 989.7 288.1 990.0 289.2 990.4 289.2 990.7 288.7 991.1 290.3 991.4 288.2 991.8 289.0 992.1 287.0 992.4 289.7 992.8 287.8 993.1 289.3 993.5 287.8 993.8 289.6 994.2 288.0 994.5 289.1 994.8 289.5 995.2 288.9 995.5 288.3 995.9 288.4 996.2 287.3 996.5 288.0 996.9 291.2 997.2 289.1 997.6 290.6 997.9 289.1 998.3 288.2 998.6 290.0 998.9 289.9 999.3 291.0 999.6 293.7 1000.0 294.3 1000.3 297.8 1000.7 300.0 1001.0 301.9 1001.3 307.1 1001.7 309.8 1002.0 313.8 1002.4 315.7 1002.7 315.1 1003.0 314.9 1003.4 316.2 1003.7 316.9 1004.1 317.1 1004.4 317.7 1004.8 316.4 1005.1 315.3 1005.4 318.9 1005.8 318.8 1006.1 315.5 1006.5 318.4 1006.8 316.7 1007.2 318.2 1007.5 316.4 1007.8 316.5 1008.2 317.1 1008.5 316.6 1008.9 317.4 1009.2 317.0 1009.5 316.1 1009.9 317.0 1010.2 318.8 1010.6 319.2 1010.9 318.9 1011.3 319.1 1011.6 319.1 1011.9 319.9 1012.3 319.0 1012.6 319.8 1013.0 319.7 1013.3 320.3 1013.7 320.0 1014.0 321.9 1014.3 319.5 1014.7 320.9 1015.0 321.0 1015.4 321.1 1015.7 320.9 1016.0 321.5 1016.4 322.6 1016.7 323.6 1017.1 325.6 1017.4 324.4 1017.8 325.6 1018.1 326.2 1018.4 324.3 1018.8 328.0 1019.1 325.2 1019.5 323.1 1019.8 322.3 1020.2 321.0 1020.5 322.3 1020.8 321.0 1021.2 318.5 1021.5 318.4 1021.9 315.6 1022.2 316.0 1022.5 315.1 1022.9 314.0 1023.2 313.7 1023.6 312.4 1023.9 312.2 1024.3 310.7 1024.6 310.2" fill="none" stroke="#1a1a8a" stroke-width="1.1" stroke-linejoin="bevel"/>
<path d="M778.3 415.4 L778.6 416.9 779.0 417.0 779.3 415.2 779.7 415.4 780.0 416.5 780.4 415.8 780.7 416.6 781.0 413.7 781.4 417.1 781.7 414.0 782.1 416.4 782.4 415.2 782.7 415.9 783.1 416.0 783.4 414.7 783.8 414.9 784.1 415.9 784.5 416.5 784.8 413.7 785.1 414.3 785.5 415.5 785.8 415.9 786.2 415.3 786.5 415.5 786.9 414.5 787.2 416.5 787.5 415.6 787.9 416.3 788.2 414.4 788.6 413.9 788.9 415.7 789.2 415.1 789.6 414.3 789.9 415.9 790.3 416.5 790.6 414.6 791.0 415.1 791.3 415.8 791.6 414.3 792.0 415.4 792.3 417.3 792.7 415.3 793.0 415.7 793.4 413.9 793.7 415.6 794.0 415.8 794.4 415.2 794.7 415.4 795.1 416.9 795.4 415.5 795.7 415.9 796.1 414.3 796.4 413.4 796.8 416.7 797.1 416.5 797.5 416.4 797.8 416.2 798.1 416.3 798.5 415.6 798.8 414.6 799.2 416.8 799.5 417.0 799.9 417.3 800.2 414.6 800.5 414.4 800.9 417.0 801.2 417.1 801.6 415.5 801.9 414.6 802.2 414.7 802.6 415.4 802.9 415.0 803.3 415.3 803.6 416.1 804.0 413.8 804.3 415.6 804.6 416.6 805.0 416.0 805.3 417.0 805.7 415.6 806.0 414.6 806.4 416.8 806.7 414.6 807.0 413.7 807.4 415.3 807.7 416.7 808.1 416.4 808.4 415.9 808.7 416.8 809.1 416.8 809.4 415.8 809.8 415.8 810.1 415.0 810.5 416.7 810.8 413.9 811.1 414.6 811.5 414.8 811.8 416.2 812.2 414.0 812.5 415.9 812.9 413.9 813.2 414.6 813.5 416.4 813.9 416.0 814.2 413.9 814.6 414.7 814.9 415.8 815.2 415.4 815.6 415.4 815.9 416.3 816.3 415.8 816.6 416.2 817.0 416.0 817.3 415.2 817.6 416.5 818.0 414.9 818.3 415.5 818.7 414.9 819.0 414.8 819.3 414.4 819.7 415.0 820.0 414.9 820.4 415.8 820.7 415.1 821.1 416.4 821.4 415.8 821.7 414.9 822.1 415.7 822.4 415.2 822.8 416.6 823.1 414.3 823.5 416.1 823.8 415.2 824.1 415.6 824.5 414.7 824.8 416.0 825.2 416.5 825.5 417.4 825.8 415.9 826.2 416.7 826.5 415.1 826.9 414.3 827.2 417.7 827.6 416.8 827.9 415.3 828.2 414.5 828.6 415.3 828.9 415.3 829.3 415.1 829.6 415.1 830.0 414.1 830.3 415.0 830.6 416.8 831.0 416.0 831.3 415.4 831.7 416.4 832.0 415.9 832.3 416.1 832.7 416.3 833.0 415.0 833.4 416.0 833.7 416.6 834.1 416.3 834.4 415.6 834.7 413.6 835.1 415.4 835.4 414.2 835.8 415.1 836.1 417.6 836.5 415.3 836.8 415.8 837.1 415.6 837.5 414.8 837.8 411.5 838.2 414.0 838.5 415.9 838.8 417.0 839.2 420.3 839.5 425.3 839.9 426.6 840.2 426.9 840.6 426.4 840.9 425.5 841.2 426.6 841.6 426.3 841.9 424.5 842.3 427.5 842.6 426.0 843.0 425.1 843.3 426.6 843.6 425.9 844.0 426.5 844.3 425.0 844.7 425.6 845.0 424.2 845.3 424.6 845.7 426.1 846.0 427.1 846.4 427.2 846.7 428.0 847.1 429.2 847.4 427.0 847.7 427.8 848.1 427.3 848.4 429.3 848.8 427.2 849.1 426.1 849.5 427.4 849.8 429.4 850.1 428.0 850.5 428.1 850.8 427.8 851.2 428.2 851.5 427.6 851.8 428.5 852.2 428.0 852.5 429.0 852.9 428.4 853.2 427.7 853.6 429.3 853.9 428.3 854.2 429.9 854.6 429.6 854.9 429.6 855.3 428.4 855.6 430.0 856.0 427.8 856.3 430.0 856.6 428.5 857.0 427.2 857.3 427.1 857.7 428.4 858.0 428.2 858.3 426.0 858.7 427.7 859.0 423.1 859.4 421.4 859.7 418.1 860.1 413.1 860.4 411.1 860.7 411.9 861.1 414.1 861.4 412.7 861.8 413.1 862.1 413.4 862.5 412.2 862.8 415.2 863.1 413.5 863.5 413.8 863.8 414.8 864.2 412.6 864.5 415.6 864.8 414.5 865.2 414.6 865.5 416.9 865.9 416.3 866.2 416.1 866.6 414.6 866.9 414.6 867.2 415.1 867.6 415.5 867.9 418.0 868.3 415.9 868.6 416.7 869.0 415.3 869.3 415.3 869.6 414.6 870.0 416.2 870.3 416.2 870.7 418.1 871.0 417.3 871.3 418.6 871.7 416.8 872.0 418.9 872.4 418.2 872.7 418.9 873.1 418.7 873.4 418.0 873.7 419.1 874.1 418.5 874.4 419.7 874.8 417.4 875.1 419.3 875.5 417.8 875.8 416.7 876.1 421.0 876.5 419.7 876.8 418.9 877.2 417.6 877.5 419.2 877.8 418.4 878.2 419.4 878.5 418.2 878.9 419.9 879.2 417.9 879.6 420.9 879.9 419.3 880.2 415.1 880.6 416.1 880.9 416.5 881.3 413.5 881.6 414.6 882.0 414.6 882.3 416.0 882.6 415.0 883.0 415.1 883.3 417.2 883.7 415.1 884.0 415.8 884.3 414.4 884.7 414.4 885.0 416.2 885.4 416.2 885.7 415.4 886.1 415.0 886.4 416.0 886.7 415.7 887.1 415.1 887.4 415.2 887.8 414.5 888.1 415.4 888.5 416.5 888.8 417.3 889.1 414.9 889.5 415.9 889.8 416.0 890.2 415.9 890.5 417.1 890.8 416.0 891.2 418.1 891.5 416.0 891.9 416.5 892.2 413.9 892.6 415.2 892.9 415.8 893.2 415.5 893.6 414.9 893.9 416.4 894.3 415.9 894.6 416.0 895.0 413.3 895.3 415.6 895.6 417.5 896.0 414.9 896.3 413.2 896.7 416.5 897.0 412.3 897.3 415.7 897.7 414.7 898.0 416.2 898.4 415.9 898.7 416.8 899.1 416.6 899.4 417.7 899.7 414.5 900.1 416.7 900.4 415.3 900.8 415.3 901.1 416.3 901.4 415.6 901.8 415.7 902.1 416.1 902.5 415.6 902.8 415.6 903.2 416.6 903.5 416.9 903.8 416.5 904.2 415.5 904.5 414.3 904.9 414.2 905.2 415.3 905.6 414.7 905.9 415.5 906.2 414.6 906.6 415.5 906.9 415.3 907.3 415.9 907.6 415.6 907.9 413.8 908.3 416.8 908.6 415.6 909.0 416.2 909.3 414.7 909.7 413.9 910.0 415.9 910.3 418.3 910.7 415.1 911.0 415.0 911.4 417.3 911.7 415.9 912.1 415.7 912.4 417.9 912.7 415.0 913.1 415.2 913.4 415.4 913.8 416.7 914.1 416.3 914.4 416.3 914.8 415.2 915.1 416.6 915.5 414.2 915.8 415.3 916.2 417.7 916.5 414.0 916.8 415.5 917.2 416.2 917.5 415.5 917.9 417.4 918.2 415.5 918.6 418.0 918.9 416.6 919.2 414.3 919.6 414.4 919.9 416.0 920.3 416.6 920.6 414.1 920.9 414.5 921.3 413.6 921.6 412.6 922.0 413.6 922.3 414.0 922.7 418.9 923.0 417.7 923.3 422.8 923.7 424.0 924.0 424.2 924.4 422.9 924.7 423.0 925.1 423.5 925.4 423.4 925.7 423.6 926.1 424.2 926.4 426.1 926.8 426.6 927.1 426.7 927.4 424.6 927.8 424.9 928.1 424.9 928.5 424.6 928.8 425.2 929.2 426.3 929.5 427.1 929.8 427.7 930.2 425.0 930.5 425.6 930.9 428.1 931.2 427.4 931.6 427.0 931.9 426.2 932.2 428.7 932.6 428.0 932.9 427.2 933.3 430.1 933.6 429.2 933.9 428.6 934.3 429.4 934.6 426.7 935.0 428.1 935.3 428.8 935.7 430.0 936.0 428.4 936.3 428.7 936.7 429.9 937.0 430.0 937.4 431.1 937.7 429.4 938.1 428.2 938.4 427.7 938.7 427.8 939.1 427.3 939.4 428.3 939.8 427.9 940.1 426.0 940.4 426.4 940.8 427.3 941.1 423.3 941.5 420.1 941.8 417.5 942.2 415.3 942.5 413.1 942.8 412.3 943.2 411.2 943.5 412.9 943.9 413.8 944.2 413.0 944.6 414.7 944.9 413.4 945.2 414.1 945.6 413.0 945.9 414.0 946.3 413.3 946.6 412.2 946.9 414.8 947.3 415.6 947.6 414.5 948.0 415.1 948.3 415.1 948.7 415.9 949.0 415.0 949.3 415.6 949.7 417.9 950.0 416.2 950.4 415.8 950.7 415.2 951.1 417.0 951.4 417.4 951.7 415.6 952.1 417.5 952.4 417.0 952.8 416.8 953.1 416.7 953.4 417.5 953.8 418.8 954.1 416.9 954.5 418.4 954.8 418.7 955.2 416.4 955.5 417.6 955.8 419.7 956.2 419.2 956.5 418.9 956.9 419.4 957.2 420.4 957.6 417.7 957.9 417.6 958.2 418.1 958.6 418.6 958.9 418.0 959.3 417.5 959.6 419.0 959.9 418.2 960.3 418.4 960.6 417.1 961.0 417.4 961.3 418.9 961.7 418.1 962.0 415.8 962.3 418.3 962.7 417.2 963.0 417.8 963.4 415.9 963.7 417.0 964.1 417.2 964.4 417.7 964.7 416.7 965.1 415.5 965.4 415.5 965.8 417.3 966.1 414.3 966.4 415.9 966.8 416.7 967.1 415.6 967.5 416.3 967.8 416.2 968.2 416.3 968.5 415.8 968.8 416.2 969.2 417.3 969.5 415.2 969.9 416.2 970.2 414.5 970.6 415.2 970.9 415.1 971.2 415.5 971.6 414.4 971.9 416.0 972.3 416.6 972.6 415.4 972.9 418.3 973.3 416.0 973.6 415.5 974.0 416.1 974.3 414.5 974.7 415.0 975.0 415.6 975.3 416.1 975.7 414.6 976.0 416.3 976.4 416.1 976.7 415.0 977.1 415.1 977.4 413.7 977.7 415.9 978.1 417.5 978.4 415.1 978.8 414.5 979.1 415.8 979.4 414.2 979.8 414.0 980.1 416.3 980.5 416.2 980.8 416.9 981.2 415.2 981.5 415.0 981.8 415.1 982.2 416.9 982.5 416.4 982.9 417.1 983.2 417.2 983.5 417.0 983.9 417.2 984.2 415.9 984.6 415.3 984.9 415.1 985.3 415.7 985.6 416.3 985.9 415.7 986.3 415.1 986.6 416.0 987.0 415.6 987.3 416.0 987.7 416.2 988.0 415.7 988.3 416.8 988.7 414.7 989.0 417.2 989.4 415.3 989.7 417.0 990.0 414.2 990.4 414.9 990.7 416.5 991.1 416.1 991.4 416.8 991.8 415.8 992.1 415.3 992.4 413.2 992.8 417.0 993.1 414.5 993.5 416.3 993.8 415.4 994.2 414.9 994.5 415.2 994.8 415.3 995.2 415.9 995.5 415.7 995.9 415.5 996.2 414.5 996.5 417.1 996.9 416.2 997.2 416.9 997.6 416.6 997.9 416.5 998.3 414.6 998.6 413.6 998.9 414.4 999.3 416.8 999.6 415.6 1000.0 416.8 1000.3 415.3 1000.7 414.5 1001.0 415.1 1001.3 414.9 1001.7 415.8 1002.0 417.6 1002.4 417.6 1002.7 415.2 1003.0 413.9 1003.4 412.6 1003.7 413.5 1004.1 412.5 1004.4 415.1 1004.8 417.2 1005.1 421.0 1005.4 424.8 1005.8 425.5 1006.1 426.1 1006.5 426.0 1006.8 427.5 1007.2 426.2 1007.5 427.7 1007.8 427.9 1008.2 426.1 1008.5 426.1 1008.9 425.1 1009.2 424.1 1009.5 425.5 1009.9 423.6 1010.2 425.8 1010.6 424.4 1010.9 426.2 1011.3 425.2 1011.6 425.9 1011.9 426.1 1012.3 425.7 1012.6 428.4 1013.0 426.8 1013.3 428.0 1013.7 427.4 1014.0 427.4 1014.3 428.5 1014.7 428.5 1015.0 429.4 1015.4 427.8 1015.7 429.1 1016.0 428.1 1016.4 429.9 1016.7 427.3 1017.1 429.7 1017.4 427.7 1017.8 429.3 1018.1 428.4 1018.4 429.2 1018.8 428.5 1019.1 429.2 1019.5 428.1 1019.8 428.7 1020.2 428.8 1020.5 427.9 1020.8 430.3 1021.2 428.4 1021.5 428.6 1021.9 429.0 1022.2 426.1 1022.5 425.7 1022.9 422.9 1023.2 423.9 1023.6 422.4 1023.9 420.4 1024.3 420.0 1024.6 415.2" fill="none" stroke="#1a1a8a" stroke-width="1.1" stroke-linejoin="bevel"/>
<rect x="778.3" y="143.5" width="246.3" height="77.6" fill="none" stroke="#666" stroke-width="0.8"/>
<path d="M778.3 151.3 h2.5 M1024.6 151.3 h-2.5 M778.3 166.8 h2.5 M1024.6 166.8 h-2.5 M778.3 182.3 h2.5 M1024.6 182.3 h-2.5 M778.3 197.8 h2.5 M1024.6 197.8 h-2.5 M778.3 213.3 h2.5 M1024.6 213.3 h-2.5 M812.5 221.1 v-2.5 M812.5 143.5 v2.5 M846.7 221.1 v-2.5 M846.7 143.5 v2.5 M880.9 221.1 v-2.5 M880.9 143.5 v2.5 M915.1 221.1 v-2.5 M915.1 143.5 v2.5 M949.3 221.1 v-2.5 M949.3 143.5 v2.5 M983.5 221.1 v-2.5 M983.5 143.5 v2.5 M1017.8 221.1 v-2.5 M1017.8 143.5 v2.5" stroke="#888" stroke-width="0.6" fill="none"/>
<g fill="#333" font-size="6.2">
<text x="775.3" y="153.5" text-anchor="end">20</text>
<text x="775.3" y="169.0" text-anchor="end">10</text>
<text x="775.3" y="184.5" text-anchor="end">0</text>
<text x="775.3" y="200.0" text-anchor="end">−10</text>
<text x="775.3" y="215.5" text-anchor="end">−20</text>
<text x="778.3" y="228.6" text-anchor="middle">0</text>
<text x="812.5" y="228.6" text-anchor="middle">200</text>
<text x="846.7" y="228.6" text-anchor="middle">400</text>
<text x="880.9" y="228.6" text-anchor="middle">600</text>
<text x="915.1" y="228.6" text-anchor="middle">800</text>
<text x="949.3" y="228.6" text-anchor="middle">1000</text>
<text x="983.5" y="228.6" text-anchor="middle">1200</text>
<text x="1017.8" y="228.6" text-anchor="middle">1400</text>
</g>
<text x="901.5" y="141.0" font-size="8.5" fill="#222" text-anchor="middle">S1(t)</text>
<text x="901.5" y="238.1" font-size="9" fill="#222" text-anchor="middle">time</text>
<text x="0" y="0" font-size="9.5" fill="#222" text-anchor="middle" transform="translate(760.3 182.3) rotate(-90)">S(t)</text>
<rect x="778.3" y="261.7" width="246.3" height="77.6" fill="none" stroke="#666" stroke-width="0.8"/>
<path d="M778.3 269.5 h2.5 M1024.6 269.5 h-2.5 M778.3 285.0 h2.5 M1024.6 285.0 h-2.5 M778.3 300.5 h2.5 M1024.6 300.5 h-2.5 M778.3 316.0 h2.5 M1024.6 316.0 h-2.5 M778.3 331.5 h2.5 M1024.6 331.5 h-2.5 M812.5 339.29999999999995 v-2.5 M812.5 261.7 v2.5 M846.7 339.29999999999995 v-2.5 M846.7 261.7 v2.5 M880.9 339.29999999999995 v-2.5 M880.9 261.7 v2.5 M915.1 339.29999999999995 v-2.5 M915.1 261.7 v2.5 M949.3 339.29999999999995 v-2.5 M949.3 261.7 v2.5 M983.5 339.29999999999995 v-2.5 M983.5 261.7 v2.5 M1017.8 339.29999999999995 v-2.5 M1017.8 261.7 v2.5" stroke="#888" stroke-width="0.6" fill="none"/>
<g fill="#333" font-size="6.2">
<text x="775.3" y="271.7" text-anchor="end">20</text>
<text x="775.3" y="287.2" text-anchor="end">10</text>
<text x="775.3" y="302.7" text-anchor="end">0</text>
<text x="775.3" y="318.2" text-anchor="end">−10</text>
<text x="775.3" y="333.7" text-anchor="end">−20</text>
<text x="778.3" y="346.8" text-anchor="middle">0</text>
<text x="812.5" y="346.8" text-anchor="middle">200</text>
<text x="846.7" y="346.8" text-anchor="middle">400</text>
<text x="880.9" y="346.8" text-anchor="middle">600</text>
<text x="915.1" y="346.8" text-anchor="middle">800</text>
<text x="949.3" y="346.8" text-anchor="middle">1000</text>
<text x="983.5" y="346.8" text-anchor="middle">1200</text>
<text x="1017.8" y="346.8" text-anchor="middle">1400</text>
</g>
<text x="901.5" y="259.2" font-size="8.5" fill="#222" text-anchor="middle">S2(t)</text>
<text x="901.5" y="356.3" font-size="9" fill="#222" text-anchor="middle">time</text>
<text x="0" y="0" font-size="9.5" fill="#222" text-anchor="middle" transform="translate(760.3 300.5) rotate(-90)">S(t)</text>
<rect x="778.3" y="380.0" width="246.3" height="77.6" fill="none" stroke="#666" stroke-width="0.8"/>
<path d="M778.3 387.8 h2.5 M1024.6 387.8 h-2.5 M778.3 403.3 h2.5 M1024.6 403.3 h-2.5 M778.3 418.8 h2.5 M1024.6 418.8 h-2.5 M778.3 434.3 h2.5 M1024.6 434.3 h-2.5 M778.3 449.8 h2.5 M1024.6 449.8 h-2.5 M812.5 457.6 v-2.5 M812.5 380.0 v2.5 M846.7 457.6 v-2.5 M846.7 380.0 v2.5 M880.9 457.6 v-2.5 M880.9 380.0 v2.5 M915.1 457.6 v-2.5 M915.1 380.0 v2.5 M949.3 457.6 v-2.5 M949.3 380.0 v2.5 M983.5 457.6 v-2.5 M983.5 380.0 v2.5 M1017.8 457.6 v-2.5 M1017.8 380.0 v2.5" stroke="#888" stroke-width="0.6" fill="none"/>
<g fill="#333" font-size="6.2">
<text x="775.3" y="390.0" text-anchor="end">20</text>
<text x="775.3" y="405.5" text-anchor="end">10</text>
<text x="775.3" y="421.0" text-anchor="end">0</text>
<text x="775.3" y="436.5" text-anchor="end">−10</text>
<text x="775.3" y="452.0" text-anchor="end">−20</text>
<text x="778.3" y="465.1" text-anchor="middle">0</text>
<text x="812.5" y="465.1" text-anchor="middle">200</text>
<text x="846.7" y="465.1" text-anchor="middle">400</text>
<text x="880.9" y="465.1" text-anchor="middle">600</text>
<text x="915.1" y="465.1" text-anchor="middle">800</text>
<text x="949.3" y="465.1" text-anchor="middle">1000</text>
<text x="983.5" y="465.1" text-anchor="middle">1200</text>
<text x="1017.8" y="465.1" text-anchor="middle">1400</text>
</g>
<text x="901.5" y="377.5" font-size="8.5" fill="#222" text-anchor="middle">S3(t)</text>
<text x="901.5" y="474.6" font-size="9" fill="#222" text-anchor="middle">time</text>
<text x="0" y="0" font-size="9.5" fill="#222" text-anchor="middle" transform="translate(760.3 418.8) rotate(-90)">S(t)</text>
<rect x="768.4" y="506.7" width="266.6" height="204.9" fill="none" stroke="#444" stroke-width="0.8"/>
<path d="M768.4 532.3 h2.5 M1035.0 532.3 h-2.5 M768.4 557.9 h2.5 M1035.0 557.9 h-2.5 M768.4 583.5 h2.5 M1035.0 583.5 h-2.5 M768.4 609.1 h2.5 M1035.0 609.1 h-2.5 M768.4 634.8 h2.5 M1035.0 634.8 h-2.5 M768.4 660.4 h2.5 M1035.0 660.4 h-2.5 M768.4 686.0 h2.5 M1035.0 686.0 h-2.5 M812.8 711.6 v-2.5 M812.8 506.7 v2.5 M857.3 711.6 v-2.5 M857.3 506.7 v2.5 M901.7 711.6 v-2.5 M901.7 506.7 v2.5 M946.1 711.6 v-2.5 M946.1 506.7 v2.5 M990.6 711.6 v-2.5 M990.6 506.7 v2.5" stroke="#444" stroke-width="0.6" fill="none"/>
<g fill="#333" font-size="7">
<text x="765.9" y="509.2" text-anchor="end">2.0</text>
<text x="765.9" y="534.8" text-anchor="end">1.5</text>
<text x="765.9" y="560.4" text-anchor="end">1.0</text>
<text x="765.9" y="586.0" text-anchor="end">0.5</text>
<text x="765.9" y="611.6" text-anchor="end">0.0</text>
<text x="765.9" y="637.3" text-anchor="end">−0.5</text>
<text x="765.9" y="662.9" text-anchor="end">−1.0</text>
<text x="765.9" y="688.5" text-anchor="end">−1.5</text>
<text x="765.9" y="714.1" text-anchor="end">−2.0</text>
<text x="768.4" y="720.1" text-anchor="middle">−1.5</text>
<text x="812.8" y="720.1" text-anchor="middle">−1.0</text>
<text x="857.3" y="720.1" text-anchor="middle">−0.5</text>
<text x="901.7" y="720.1" text-anchor="middle">0.0</text>
<text x="946.1" y="720.1" text-anchor="middle">0.5</text>
<text x="990.6" y="720.1" text-anchor="middle">1.0</text>
<text x="1035.0" y="720.1" text-anchor="middle">1.5</text>
</g>
<text x="901.5" y="503" font-size="12" fill="#222" text-anchor="middle">Result of clusters with t-sne</text>
<text x="901.5" y="730.6" font-size="7.5" fill="#222" text-anchor="middle">X0</text>
<text x="0" y="0" font-size="7.5" fill="#222" text-anchor="middle" transform="translate(743 609.1) rotate(-90)">X1</text>
<path d="M891.0 571.2 L895.5 571.2 L899.0 568.7 L902.6 568.2 L906.1 569.2 L905.3 570.7 L907.0 569.7" stroke="#000" stroke-width="1.2" fill="none"/>
<path d="M891.0 568.0 L894.2 571.2 L891.0 574.4000000000001 L887.8 571.2 Z M895.5 568.0 L898.7 571.2 L895.5 574.4000000000001 L892.3 571.2 Z M899.0 565.5 L902.2 568.7 L899.0 571.9000000000001 L895.8 568.7 Z M902.6 565.0 L905.8000000000001 568.2 L902.6 571.4000000000001 L899.4 568.2 Z M906.1 566.0 L909.3000000000001 569.2 L906.1 572.4000000000001 L902.9 569.2 Z M905.3 567.5 L908.5 570.7 L905.3 573.9000000000001 L902.0999999999999 570.7 Z M907.0 566.5 L910.2 569.7 L907.0 572.9000000000001 L903.8 569.7 Z" fill="#000"/>
<path d="M933.7 619.4 L935.5 617.3 L937.2 615.8 L939.9 613.8 L942.6 612.7 L946.1 611.7 L937.2 614.8" stroke="#101060" stroke-width="1.2" fill="none"/>
<path d="M931.3000000000001 617.0 h4.8 v4.8 h-4.8 Z M933.1 614.9 h4.8 v4.8 h-4.8 Z M934.8000000000001 613.4 h4.8 v4.8 h-4.8 Z M937.5 611.4 h4.8 v4.8 h-4.8 Z M940.2 610.3000000000001 h4.8 v4.8 h-4.8 Z M943.7 609.3000000000001 h4.8 v4.8 h-4.8 Z M934.8000000000001 612.4 h4.8 v4.8 h-4.8 Z" fill="#101060"/>
<circle cx="795.9" cy="673.2" r="2.5" fill="#1a6a1a"/>
<circle cx="796.8" cy="671.6" r="2.5" fill="#1a6a1a"/>
<circle cx="799.5" cy="667.0" r="2.5" fill="#1a6a1a"/>
<circle cx="802.2" cy="670.1" r="2.5" fill="#1a6a1a"/>
<circle cx="804.8" cy="671.1" r="2.5" fill="#1a6a1a"/>
<circle cx="806.6" cy="670.6" r="2.5" fill="#1a6a1a"/>
<circle cx="797.7" cy="674.2" r="2.5" fill="#1a6a1a"/>
<path d="M885.7 699.8 L888.4 702.4 L890.1 701.4 L886.6 703.4 L891.0 702.9" stroke="#9a9a20" stroke-width="1" fill="none"/>
<path d="M883.5 698.2 h4.4 l-2.2 3.6 Z" fill="#b8b830" stroke="#6a6a10" stroke-width="0.5"/>
<path d="M886.2 700.8 h4.4 l-2.2 3.6 Z" fill="#b8b830" stroke="#6a6a10" stroke-width="0.5"/>
<path d="M887.9 699.8 h4.4 l-2.2 3.6 Z" fill="#b8b830" stroke="#6a6a10" stroke-width="0.5"/>
<path d="M884.4 701.8 h4.4 l-2.2 3.6 Z" fill="#b8b830" stroke="#6a6a10" stroke-width="0.5"/>
<path d="M888.8 701.3 h4.4 l-2.2 3.6 Z" fill="#b8b830" stroke="#6a6a10" stroke-width="0.5"/>
<path d="M845.7 638.3 L855.5 641.4 L855.5 647.6 L848.4 639.9 L852.8 639.9" stroke="#b040c0" stroke-width="1" fill="none"/>
<path d="M1002.1 512.6 l3.6 3.6 M1005.7 512.6 l-3.6 3.6" stroke="#d09090" stroke-width="0.9"/>
<path d="M1006.5 515.1 l3.6 3.6 M1010.1 515.1 l-3.6 3.6" stroke="#d09090" stroke-width="0.9"/>
<path d="M1010.1 516.7 l3.6 3.6 M1013.7 516.7 l-3.6 3.6" stroke="#d09090" stroke-width="0.9"/>
<path d="M1008.3 517.7 l3.6 3.6 M1011.9 517.7 l-3.6 3.6" stroke="#d09090" stroke-width="0.9"/>
<path d="M1011.0 518.7 l3.6 3.6 M1014.6 518.7 l-3.6 3.6" stroke="#d09090" stroke-width="0.9"/>
<rect x="772.6" y="510.8" width="148" height="27.5" fill="#fff" stroke="#555" stroke-width="0.8"/>
<path d="M776.5 517.3 l2 2 M778.5 517.3 l-2 2 M788.5 517.3 l2 2 M790.5 517.3 l-2 2" stroke="#c8c8c8" stroke-width="0.9"/>
<circle cx="778.7" cy="530.6" r="1.6" fill="#1a6a1a"/><circle cx="790.8" cy="530.6" r="1.6" fill="#1a6a1a"/>
<path d="M832 518.3 h13" stroke="#101060" stroke-width="1"/><path d="M830.4 516.6999999999999 h3.2 v3.2 h-3.2 Z M843.4 516.6999999999999 h3.2 v3.2 h-3.2 Z" fill="#101060"/>
<path d="M832 530.6 h13" stroke="#9a9a20" stroke-width="0.8"/>
<path d="M830.5 529.5 h3 l-1.5 2.6Z M843.5 529.5 h3 l-1.5 2.6Z" fill="#b8b830" stroke="#6a6a10" stroke-width="0.4"/>
<path d="M884.5 518.3 h12" stroke="#000" stroke-width="1"/><path d="M884.5 516.3 L886.5 518.3 L884.5 520.3 L882.5 518.3 Z M896.5 516.3 L898.5 518.3 L896.5 520.3 L894.5 518.3 Z" fill="#000"/>
<path d="M883 530.6 h14" stroke="#b070b0" stroke-width="0.9"/>
<g font-size="7.8" fill="#333">
<text x="800" y="521">2B</text><text x="800" y="533.3">1A</text>
<text x="853" y="521">1B</text><text x="853" y="533.3">1C</text>
<text x="906.5" y="521">2C</text><text x="906.5" y="533.3">2A</text>
</g>
<!-- arrows -->
<g stroke="#b3262a" stroke-width="2.6" fill="none">
 <line x1="700" y1="207" x2="750.5" y2="202.4" marker-end="url(#ah)"/>
 <line x1="690" y1="288" x2="754.8" y2="306.9" marker-end="url(#ah)"/>
 <line x1="683" y1="358" x2="760.4" y2="407.7" marker-end="url(#ah)"/>
</g>
</svg>

<div class="abs" id="redhead">观测变量的混合矩阵</div>
<!-- matrix -->
<svg class="abs" style="left:390px;top:500px" width="320" height="200" viewBox="390 500 320 200">
 <path d="M400 504.5 L394.5 504.5 L394.5 694.5 L400 694.5" fill="none" stroke="#222" stroke-width="1.3"/>
 <path d="M697 504.5 L702.5 504.5 L702.5 694.5 L697 694.5" fill="none" stroke="#222" stroke-width="1.3"/>
</svg>
<svg class="abs" style="left:390px;top:500px" width="320" height="200" viewBox="390 500 320 200">
<g font-family="Liberation Serif" font-size="22" fill="#111" text-anchor="middle">
<text x="449.5" y="522.0">0.0840583</text>
<text x="552.5" y="522.0">1.9266</text>
<text x="651.5" y="522.0">0.723639</text>
<text x="449.5" y="555.1">0.107566</text>
<text x="552.5" y="555.1">1.83778</text>
<text x="651.5" y="555.1">0.667357</text>
<text x="449.5" y="588.2">0.0727591</text>
<text x="552.5" y="588.2">1.8964</text>
<text x="651.5" y="588.2">0.768339</text>
<text x="449.5" y="621.3">-0.974279</text>
<text x="552.5" y="621.3">4.01518</text>
<text x="651.5" y="621.3">0.323717</text>
<text x="449.5" y="654.4">-1.00451</text>
<text x="552.5" y="654.4">4.01486</text>
<text x="651.5" y="654.4">0.312087</text>
<text x="449.5" y="687.5">-1.04111</text>
<text x="552.5" y="687.5">4.1216</text>
<text x="651.5" y="687.5">0.48106</text>
</g></svg>
<div class="abs" id="eq"><i>x</i><sub>1</sub> = 0.0840583<i>s</i><sub>1</sub> +1.9266<i>s</i><sub>2</sub> +0.723639<i>s</i><sub>3</sub> +...</div>

<div class="abs" id="redfoot">用户聚类结果</div>
<div class="abs" style="left:840px;top:746px;width:160px;height:30px;background:repeating-linear-gradient(180deg,rgba(255,255,255,0) 0px,rgba(255,255,255,0) 2px,rgba(255,255,255,.55) 2px,rgba(255,255,255,.55) 3.5px)"></div>
<svg class="abs" style="left:775px;top:740px" width="160" height="45" viewBox="775 740 160 45">
 <g fill="#fff" fill-opacity=".85" stroke="#777" stroke-width="1">
  <ellipse cx="790.4" cy="755.8" rx="9.7" ry="7.6"/>
  <ellipse cx="807" cy="764.9" rx="11.8" ry="10.2"/>
  <ellipse cx="902" cy="753" rx="9.7" ry="7.6"/>
  <ellipse cx="915.4" cy="764.9" rx="11.8" ry="10.2"/>
 </g>
 <g fill="#888">
  <circle cx="787" cy="753" r="1.2"/><circle cx="794" cy="753" r="1.2"/>
  <circle cx="802" cy="762" r="1.3"/><circle cx="811" cy="762" r="1.3"/>
  <circle cx="899" cy="750" r="1.2"/><circle cx="906" cy="750" r="1.2"/>
  <circle cx="910" cy="762" r="1.3"/><circle cx="919" cy="762" r="1.3"/>
 </g>
 <circle cx="786" cy="781" r="1.2" fill="#222"/>
</svg>
<div class="abs" id="wm">智能电网</div>
<div class="abs" id="pgnum">42</div>
<div class="abs" id="bottomline"></div>
<div class="abs" id="bottombar"></div>
</body></html>
